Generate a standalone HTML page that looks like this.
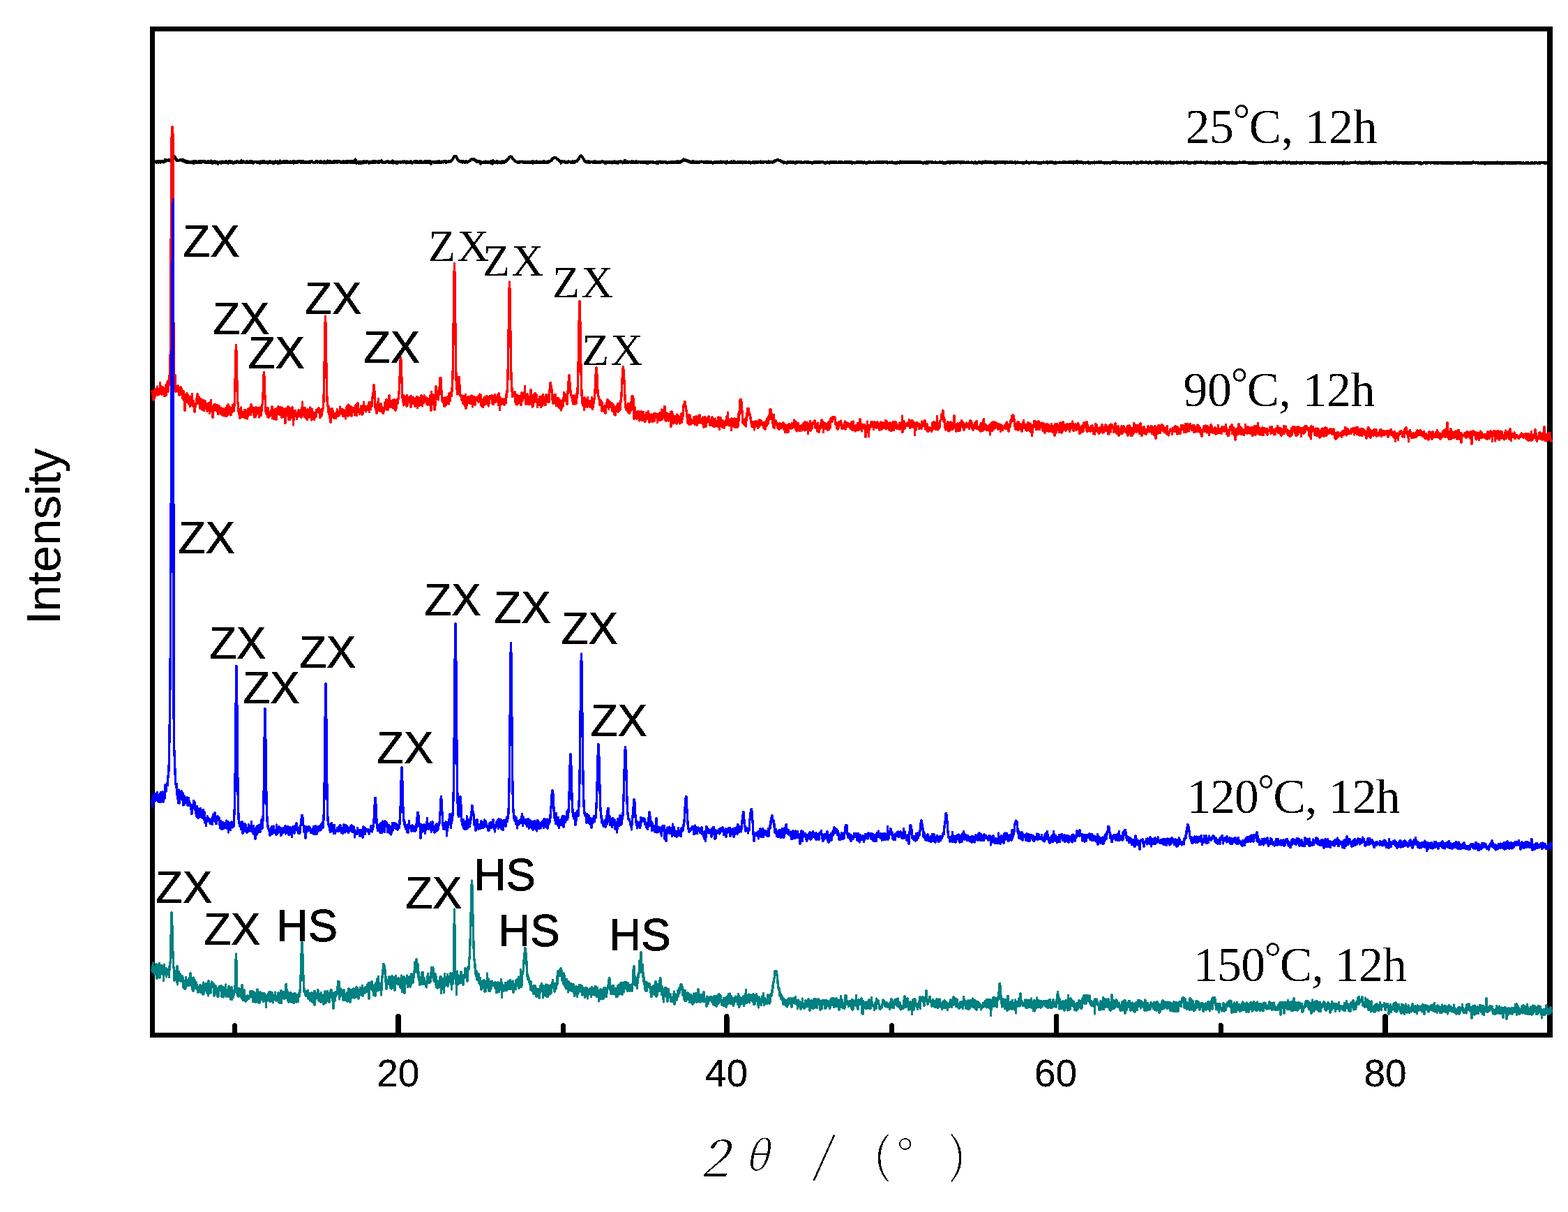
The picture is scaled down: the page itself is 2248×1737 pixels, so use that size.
<!DOCTYPE html>
<html lang="en">
<head>
<meta charset="utf-8">
<title>XRD patterns</title>
<style>
html,body{margin:0;padding:0;background:#fff;}
body{width:2248px;height:1737px;overflow:hidden;}
svg{display:block;}
text{white-space:pre;}

.sa{font-family:"Liberation Sans",sans-serif;font-size:63.5px;stroke:#000;stroke-width:0.7px;}
.se{font-family:"Liberation Serif",serif;font-size:64px;letter-spacing:2px;}
.tk{font-family:"Liberation Sans",sans-serif;font-size:55px;}
.tp{font-family:"Liberation Serif",serif;font-size:70px;letter-spacing:-0.5px;}
.tp3{letter-spacing:-0.9px;}
.dg{font-size:61px;}
.yt{font-family:"Liberation Sans",sans-serif;font-size:69px;letter-spacing:-0.55px;}
.xt{font-family:"Noto Serif CJK SC","Liberation Serif",serif;font-weight:200;}
.xi{font-style:italic;font-weight:300;}

</style>
</head>
<body>
<svg width="2248" height="1737" viewBox="0 0 2248 1737">
<defs><filter id="crispA" filterUnits="userSpaceOnUse" x="0" y="0" width="2248" height="1737" color-interpolation-filters="sRGB"><feComponentTransfer><feFuncA type="discrete" tableValues="0 0 1 1 1"/></feComponentTransfer></filter><filter id="crispB" filterUnits="userSpaceOnUse" x="0" y="0" width="2248" height="1737" color-interpolation-filters="sRGB"><feComponentTransfer><feFuncA type="discrete" tableValues="0 0 0 1 1"/></feComponentTransfer></filter></defs>
<rect width="2248" height="1737" fill="#fff"/>
<g fill="#000" shape-rendering="crispEdges">
<rect x="215" y="38" width="2011" height="7"/>
<rect x="215" y="1480" width="2011" height="7"/>
<rect x="215" y="38" width="7" height="1449"/>
<rect x="2218" y="38" width="8" height="1449"/>
<path d="M333.0 1481V1469.5a3.50 3.50 0 0 1 7.0 0V1481z"/>
<path d="M567.3 1481V1456.7a3.70 3.70 0 0 1 7.4 0V1481z"/>
<path d="M804.0 1481V1469.5a3.50 3.50 0 0 1 7.0 0V1481z"/>
<path d="M1038.1 1481V1456.7a3.70 3.70 0 0 1 7.4 0V1481z"/>
<path d="M1275.0 1481V1469.5a3.50 3.50 0 0 1 7.0 0V1481z"/>
<path d="M1510.9 1481V1456.7a3.70 3.70 0 0 1 7.4 0V1481z"/>
<path d="M1746.9 1481V1469.5a3.50 3.50 0 0 1 7.0 0V1481z"/>
<path d="M1982.3 1481V1456.7a3.70 3.70 0 0 1 7.4 0V1481z"/>
</g>
<g transform="scale(0.1)" fill="none" stroke-linejoin="round" stroke-linecap="round" shape-rendering="crispEdges">
<path stroke="#000000" stroke-width="40" d="M2180 2332l5-15 5 3 5-6 5 2 5-6 5 3 5 2 5-1 5-1 5 5 5 4 5 6 5-6 5-1 5-8 5 12 5 2 5-16 5 17 5-20 5 15 5-1 5 0 5-16 5 22 5-14 5 2 5-11 5 4 5 15 5-11 5 7 5 5 5-20 5 19 5-24 5-8 5 21 5-12 5 6 5-12 5 7 5 1 5-8 5 0 5 0 5 4 5-14 5 6 5 9 5 6 5-4 5-3 5 2 5 2 5-10 5-7 5-7 5-15 5-10 5-3 5-11 5 0 5 0 5 10 5 9 5 6 5 12 5 11 5 12 5-11 5 5 5 2 5 1 5-2 5 0 5 3 5 4 5-6 5-6 5 0 5 0 5 0 5 12 5 2 5-2 5-6 5-2 5-2 5 22 5-10 5 1 5-5 5 6 5 18 5-11 5-2 5 19 5-21 5 7 5 15 5-14 5-3 5 8 5 7 5-2 5-11 5 9 5 6 5-15 5 5 5-5 5 16 5-5 5-4 5-5 5 11 5-16 5 26 5-11 5-13 5 13 5-15 5 11 5 5 5-18 5 8 5 7 5 1 5-2 5-1 5 7 5-8 5-11 5 2 5 20 5-4 5-19 5 22 5-7 5 5 5-19 5 10 5-3 5-9 5-3 5 15 5-15 5 11 5 1 5 3 5-9 5 17 5 2 5-4 5 5 5-6 5-5 5-8 5-1 5 10 5 9 5-18 5 20 5-2 5-12 5-4 5 8 5-19 5 9 5 18 5-3 5 12 5-2 5-24 5 18 5-4 5 1 5-14 5 17 5-21 5 14 5 10 5-21 5 15 5-5 5-5 5 16 5 14 5-24 5 6 5 1 5-6 5 3 5-9 5 0 5 6 5 11 5-17 5 12 5-18 5 19 5 0 5-10 5-6 5 11 5 5 5 0 5-1 5 2 5-4 5-21 5 7 5-1 5 10 5 7 5-12 5 16 5-21 5-4 5 10 5-3 5 7 5-16 5 15 5 7 5-3 5-8 5-6 5 9 5 1 5 14 5 0 5-14 5 1 5-2 5-4 5 11 5-4 5 8 5-9 5-12 5 9 5-11 5 6 5 3 5 0 5 2 5 7 5-14 5 9 5-5 5 9 5-7 5-3 5-17 5 21 5 12 5-22 5 0 5 4 5-4 5 3 5 7 5-4 5 6 5 9 5-5 5 3 5 1 5-18 5-2 5 19 5-9 5 1 5-6 5 4 5-1 5 11 5-18 5 19 5-5 5-13 5 6 5 5 5-18 5 17 5 8 5 0 5 4 5-12 5-5 5 1 5 0 5 2 5 1 5-1 5-4 5-1 5 8 5-2 5 5 5-6 5 3 5 4 5-6 5 10 5-7 5 14 5-24 5-2 5 5 5-3 5 5 5 8 5-18 5 17 5-15 5 10 5-14 5 20 5-3 5-13 5 19 5-13 5 6 5-6 5 5 5 5 5-15 5 6 5 16 5-21 5 3 5 5 5 3 5-4 5-10 5 4 5-1 5 11 5-10 5 2 5 10 5-8 5 16 5-4 5 5 5-19 5 21 5-4 5-1 5-18 5 5 5-9 5 5 5 2 5-1 5-5 5 20 5-15 5 25 5-28 5 16 5 2 5-13 5-17 5 25 5 6 5-13 5 12 5-12 5 7 5-5 5 4 5-14 5 19 5-10 5-11 5 6 5 8 5-10 5 8 5 8 5-20 5 12 5 7 5-17 5 2 5 10 5 6 5-4 5-11 5 16 5-15 5 16 5-19 5 6 5-3 5-1 5 3 5 12 5-2 5-18 5 5 5 23 5-7 5-24 5 25 5-14 5 9 5 1 5-16 5 3 5 7 5 9 5-17 5-6 5 7 5 1 5-7 5 2 5 11 5-1 5-12 5 7 5-3 5 19 5-22 5 6 5 9 5-6 5 8 5-3 5-14 5 19 5-12 5 3 5-5 5 12 5 2 5 1 5-14 5 9 5 6 5 0 5-17 5-1 5 12 5-8 5-5 5 1 5 17 5-4 5-13 5 6 5-4 5-1 5-5 5 10 5 2 5 8 5-4 5-2 5 7 5 1 5-3 5-7 5-1 5-10 5 9 5-6 5-2 5 14 5-1 5-8 5 7 5-1 5 0 5-4 5 10 5-18 5 0 5 21 5-11 5 9 5 0 5-5 5 7 5 1 5-14 5 0 5 16 5-22 5 6 5 11 5 2 5-9 5 11 5-5 5-17 5 13 5-21 5 19 5 1 5 1 5-4 5-10 5 9 5 7 5-17 5 14 5 3 5 3 5-6 5 5 5-3 5-2 5-9 5-6 5 21 5-8 5 8 5-19 5 2 5 8 5-6 5-6 5 15 5-11 5 16 5-17 5 6 5 0 5-11 5 16 5-1 5-11 5 6 5 1 5 9 5-3 5 0 5-7 5-1 5 11 5-10 5-9 5 12 5-6 5 15 5-8 5 0 5 11 5-20 5 17 5-10 5-1 5-8 5 2 5 16 5-24 5 22 5-2 5-8 5-6 5 16 5-13 5 14 5 1 5-6 5-11 5 18 5-10 5-8 5 7 5 12 5-17 5 7 5-1 5 4 5-8 5-31 5 27 5 1 5 23 5-18 5 12 5-9 5 12 5-1 5-14 5 21 5-20 5 6 5 7 5 3 5 4 5-19 5 16 5-17 5 7 5-3 5 0 5 14 5-23 5 14 5-13 5-1 5 19 5-2 5-8 5 7 5-20 5 9 5-7 5 9 5-1 5 2 5-5 5 15 5 5 5 0 5-9 5-7 5 4 5-3 5 12 5-18 5 9 5-4 5-6 5 10 5 6 5-8 5-9 5 15 5-7 5 6 5-3 5-13 5 6 5-2 5 2 5 6 5 8 5-15 5 16 5-22 5 2 5-4 5 7 5 9 5-15 5 6 5 7 5-13 5-7 5 6 5 22 5-14 5 7 5 0 5 6 5 3 5-7 5 1 5 7 5-15 5 2 5 4 5-5 5 3 5-13 5 13 5-7 5-2 5 16 5-11 5 13 5-4 5 2 5-4 5 8 5-1 5-1 5-12 5 1 5-8 5-8 5 31 5-7 5-6 5 6 5 0 5-7 5 7 5-7 5-3 5 18 5 1 5-10 5 0 5 8 5-11 5-10 5 5 5 5 5-3 5-4 5-1 5 12 5 1 5 2 5-15 5 6 5-7 5 3 5-5 5 13 5-7 5 5 5-6 5-5 5 9 5-5 5 10 5-2 5 10 5-14 5-7 5 19 5-18 5 5 5 11 5-3 5 0 5-5 5 3 5-8 5 6 5-1 5-11 5 22 5 2 5 1 5-3 5-6 5-5 5-5 5-6 5 11 5 2 5-2 5-12 5 17 5-18 5 4 5-3 5 21 5-9 5-7 5 8 5 1 5-10 5 15 5 2 5-10 5-13 5 11 5-8 5 18 5-16 5 11 5-5 5-4 5 10 5 3 5 2 5-17 5-2 5 1 5 14 5-11 5 14 5-20 5 3 5 0 5 3 5 15 5-1 5-4 5-16 5-4 5 20 5 4 5 6 5-4 5-19 5 35 5-33 5 12 5-7 5 3 5-2 5 3 5-1 5 2 5-3 5 5 5-4 5 3 5-7 5-5 5 3 5 0 5-3 5 19 5-18 5 17 5 1 5-1 5-24 5 24 5-4 5 3 5-10 5-2 5 13 5-7 5-12 5 9 5-2 5 4 5 0 5-3 5-11 5 5 5 8 5 0 5 1 5-11 5 5 5 10 5-15 5 4 5 5 5-8 5 0 5 9 5-17 5 9 5 6 5-4 5-8 5 3 5-8 5 7 5-9 5-12 5-2 5-10 5-7 5-5 5-10 5-10 5-8 5-2 5 0 5 0 5 2 5 7 5 6 5 10 5 11 5 10 5 0 5 15 5 6 5 3 5 1 5 5 5-4 5 12 5-10 5 13 5-1 5-12 5-2 5 22 5-9 5-3 5-3 5-4 5 7 5 3 5 6 5-5 5 4 5-1 5-16 5 14 5-11 5 13 5-6 5-3 5-3 5-1 5-8 5 0 5 1 5-1 5-16 5-4 5 3 5-4 5-5 5 4 5-5 5 0 5 11 5-11 5 15 5 0 5-2 5 5 5 6 5 8 5-5 5-3 5 18 5-15 5 17 5 3 5-1 5-15 5 2 5 9 5 1 5-1 5-7 5 34 5-14 5-13 5 13 5-1 5-5 5-2 5 7 5-12 5 2 5-5 5 9 5 9 5-2 5-13 5-5 5 4 5 12 5-11 5 1 5 11 5-12 5 1 5 12 5-14 5 12 5-1 5-7 5 3 5 9 5-21 5 9 5-8 5-3 5 36 5-35 5 0 5-10 5 8 5 20 5-8 5 1 5-5 5 11 5-15 5 2 5-5 5 6 5-7 5 26 5-9 5-7 5 1 5 4 5-5 5-5 5 4 5 6 5 6 5 4 5-13 5 8 5-17 5 18 5-14 5-3 5 3 5 10 5-6 5 2 5-14 5-1 5-4 5 10 5-12 5-5 5-6 5 2 5-17 5 1 5-7 5 0 5-12 5-11 5-2 5-3 5 0 5 3 5-1 5 6 5 1 5 13 5 13 5-2 5 3 5 6 5 4 5 10 5 6 5 2 5 5 5 2 5 3 5 0 5 6 5 0 5-7 5 13 5-5 5 3 5-7 5 11 5-11 5-5 5 4 5-1 5 6 5-5 5 0 5-4 5 4 5-2 5 1 5 9 5-3 5-6 5 17 5-3 5 0 5-12 5 6 5 0 5 0 5-7 5 1 5 12 5-3 5-11 5 14 5-6 5 5 5-7 5-6 5 10 5 3 5-2 5-5 5-8 5 2 5-7 5 25 5-3 5-10 5 9 5-13 5-3 5 16 5-11 5 1 5-2 5 12 5-20 5 11 5 0 5-2 5 11 5-13 5-1 5 11 5-7 5-2 5 1 5 13 5-7 5 6 5-6 5-7 5 12 5 3 5-10 5-11 5 17 5-17 5 0 5 7 5 0 5 0 5 6 5 8 5-2 5-16 5 11 5 5 5-19 5-1 5 12 5-2 5-5 5-7 5 5 5-9 5-3 5 1 5-14 5 3 5-14 5 1 5-9 5-6 5 5 5-10 5 1 5-3 5-4 5 0 5 2 5 1 5 8 5 4 5 8 5 6 5-2 5 0 5 10 5 4 5 5 5-2 5 15 5 0 5 7 5-3 5 20 5-24 5 5 5-5 5 10 5 1 5-6 5 0 5 1 5-5 5 11 5-2 5-8 5 10 5 3 5-11 5-1 5 6 5-6 5 9 5-11 5-2 5 4 5 1 5 3 5-3 5 6 5 6 5-3 5 4 5 2 5-14 5 14 5-19 5 7 5 0 5 10 5 0 5-1 5-4 5-15 5 4 5 2 5-4 5-4 5 5 5-9 5-7 5-3 5-11 5-3 5-9 5-13 5-10 5-7 5-1 5-5 5-3 5 0 5 6 5 5 5 8 5 11 5 6 5 8 5 10 5 9 5 8 5 6 5 6 5-4 5 8 5 6 5-11 5 8 5-8 5 1 5 10 5-14 5 7 5 0 5 12 5-7 5 8 5-7 5 0 5-6 5-4 5 2 5-2 5 11 5-11 5 9 5-8 5 15 5-12 5-10 5 14 5 0 5 8 5-10 5 2 5 5 5 4 5-6 5-3 5-7 5 10 5-7 5-4 5 0 5 1 5 17 5-11 5 0 5-4 5 4 5-7 5 4 5-10 5 10 5-1 5 7 5-4 5 12 5-2 5-12 5 25 5-13 5 4 5-3 5-4 5-7 5 2 5-1 5-3 5 14 5-5 5-12 5 14 5-11 5 15 5-8 5-9 5 15 5-11 5 15 5-3 5-9 5-6 5 5 5 4 5-8 5-6 5 14 5 7 5-3 5-16 5 20 5-12 5 7 5 3 5-1 5 4 5-17 5 8 5-3 5-9 5 4 5 5 5 2 5-17 5 15 5-9 5 5 5-1 5 17 5-3 5-7 5-11 5 7 5 8 5-10 5-24 5 20 5-3 5 16 5-9 5 11 5-9 5-7 5 4 5 13 5-3 5-6 5 0 5-3 5 3 5-2 5-2 5 10 5-5 5-8 5-2 5 14 5 0 5 1 5-8 5-7 5 12 5 2 5 2 5-12 5 8 5-12 5 9 5-9 5 7 5 8 5 6 5-5 5-10 5 6 5-10 5 5 5-4 5-1 5 13 5-2 5-6 5 0 5-1 5 8 5-6 5 6 5 2 5-8 5 6 5 4 5-14 5 11 5 5 5-18 5 10 5 10 5 1 5-16 5 15 5-2 5-17 5 18 5-20 5 11 5 1 5 6 5-1 5-14 5-2 5 4 5 3 5-1 5 6 5-2 5-1 5 3 5-7 5 11 5-2 5 1 5-5 5 0 5 2 5 5 5-8 5 15 5-19 5 4 5 3 5 12 5-25 5 3 5 6 5-1 5 0 5-8 5 12 5-3 5 5 5-2 5-5 5 10 5 1 5-4 5-1 5-12 5 7 5-2 5-3 5 2 5 5 5 3 5-10 5 8 5 4 5 6 5-10 5 4 5-2 5-5 5 6 5 5 5 0 5-3 5-6 5 7 5-10 5 3 5-8 5 2 5 5 5 4 5 4 5-2 5-8 5-5 5 6 5-2 5 6 5-11 5 4 5 6 5-11 5-2 5 13 5 6 5-1 5-7 5 4 5-14 5 11 5 3 5-10 5-4 5 5 5 4 5-3 5-10 5-1 5-10 5 0 5-2 5-14 5 19 5-12 5 1 5-1 5 0 5 0 5 10 5 1 5-2 5-4 5 2 5 16 5 3 5-11 5 19 5-7 5-3 5-3 5 13 5 4 5-7 5 4 5 2 5 2 5-3 5-13 5-1 5 18 5-5 5-4 5 12 5-10 5 8 5-12 5 5 5 11 5-17 5 1 5-1 5 17 5-4 5-9 5 11 5-4 5-7 5 5 5 0 5-9 5 0 5 6 5 0 5-9 5 4 5 0 5 0 5 6 5-6 5 9 5 6 5-3 5-15 5 4 5 4 5 3 5-4 5-6 5-2 5 1 5 15 5-16 5 3 5 6 5 9 5-10 5 2 5 2 5 3 5-8 5 10 5-10 5 8 5-2 5 5 5 7 5-13 5 2 5-4 5-1 5-7 5 10 5 1 5-8 5-1 5 5 5-6 5 11 5-12 5 15 5-8 5 7 5-14 5-2 5 13 5 2 5-9 5-3 5-3 5 16 5-8 5 0 5 8 5-13 5 0 5 2 5-1 5 4 5-4 5 2 5 11 5-13 5 6 5 11 5-20 5 4 5-4 5 15 5-1 5 4 5-6 5 0 5 1 5-3 5-3 5 0 5 7 5-10 5-5 5 13 5-1 5-3 5 8 5-12 5 0 5-5 5 17 5-13 5 6 5-4 5 6 5 0 5 6 5-6 5 5 5-8 5 10 5-10 5-4 5 12 5-5 5-1 5 1 5-12 5 16 5 0 5 0 5-3 5-7 5 5 5 10 5-4 5 0 5-8 5 2 5-4 5-2 5 9 5-12 5 0 5 8 5 4 5 1 5 4 5-7 5 0 5 4 5-9 5-3 5 11 5 2 5-8 5 8 5 4 5-7 5 2 5-5 5 1 5 6 5-11 5-1 5 4 5 7 5-14 5 18 5-7 5-3 5 9 5-16 5-3 5 9 5 8 5-16 5 1 5 2 5 6 5 0 5 0 5-6 5-2 5 7 5 5 5-17 5 17 5 2 5-1 5-6 5-9 5 14 5 4 5-5 5 2 5-4 5-9 5 1 5 3 5-2 5 3 5-5 5 9 5-10 5-1 5 17 5-12 5-2 5-10 5 11 5 13 5-11 5 6 5-6 5 3 5-8 5-1 5 9 5-4 5 8 5-13 5 9 5-13 5 12 5-12 5 2 5-10 5-3 5 2 5 4 5-7 5-5 5-4 5-1 5 0 5 0 5 3 5 7 5-1 5-1 5 0 5 4 5 9 5 4 5 4 5 3 5-10 5 2 5 10 5 3 5-5 5 14 5-14 5 7 5 4 5-3 5 3 5-3 5 2 5 3 5 2 5-1 5-10 5-8 5 4 5 6 5 6 5-7 5 1 5-9 5 13 5-2 5 3 5-14 5 7 5-6 5 12 5-15 5 8 5 5 5-1 5-5 5 4 5 0 5 5 5 6 5-18 5 13 5-15 5 11 5 2 5-6 5 0 5 1 5-10 5 5 5-4 5-2 5 12 5-8 5 0 5 2 5 2 5 5 5-1 5 2 5-1 5-1 5 3 5-3 5 0 5-2 5-10 5 1 5 1 5 4 5 7 5-8 5-1 5 11 5-7 5-1 5 7 5-7 5 5 5 3 5-3 5-3 5 5 5 1 5 3 5-6 5 5 5 10 5-8 5-2 5-5 5 4 5-12 5 11 5-8 5 7 5-7 5 10 5-6 5 5 5-10 5 2 5 2 5 6 5-15 5 13 5 0 5-9 5-3 5 11 5-7 5-3 5-2 5 0 5-1 5 9 5-4 5-2 5 2 5 4 5 5 5-2 5 8 5-7 5 2 5 3 5 3 5-5 5-1 5 3 5-11 5 0 5 9 5 2 5 1 5 0 5 7 5-17 5 3 5 2 5-9 5 7 5-5 5 0 5 11 5-2 5-8 5 6 5-5 5 8 5-6 5 2 5 2 5-8 5 6 5-10 5 8 5-1 5 2 5 2 5 3 5-5 5 6 5-14 5 7 5-7 5 8 5-2 5 0 5-2 5-3 5 2 5-3 5 12 5 0 5 0 5-4 5-2 5 6 5-1 5-1 5-9 5 13 5-7 5 0 5-1 5-3 5 5 5-4 5 6 5 0 5-6 5 0 5 1 5 5 5 0 5-5 5-4 5 11 5-11 5 16 5-8 5 7 5-10 5 8 5-4 5 1 5 2 5-7 5 9 5-2 5-4 5-4 5 1 5 4 5-8 5 10 5-7 5-1 5 8 5-5 5 5 5-10 5 1 5 1 5 5 5 6 5-6 5-4 5-3 5 7 5 0 5-3 5 10 5-11 5-2 5 0 5 5 5-3 5 4 5 3 5 6 5-9 5 5 5 4 5 0 5-7 5 1 5-7 5-3 5 11 5-12 5 9 5-7 5-2 5 2 5 3 5 5 5-1 5 1 5 1 5-1 5-10 5 5 5 1 5 3 5-5 5 4 5 3 5-9 5-2 5 12 5-12 5 3 5 0 5 6 5-1 5-9 5-2 5 0 5 9 5-6 5-1 5 11 5-1 5-8 5 6 5-1 5-1 5-2 5-1 5 1 5 3 5-9 5 6 5-3 5 0 5 6 5-8 5 7 5 7 5-7 5-4 5 14 5-10 5 5 5 1 5-2 5 2 5-8 5 4 5 6 5 1 5-9 5 4 5-8 5 0 5 1 5 8 5 5 5-11 5 8 5-1 5 1 5 3 5-7 5 12 5-5 5-2 5 0 5 2 5-11 5 10 5-9 5 6 5 2 5-5 5 6 5-13 5-6 5 16 5-8 5 0 5-5 5 10 5 3 5-9 5 5 5-2 5 3 5-6 5 1 5 0 5 8 5-4 5-6 5 9 5-6 5-4 5 12 5-3 5-8 5 10 5-3 5-3 5-5 5-1 5 2 5 2 5 7 5-2 5-3 5 1 5-5 5 2 5 8 5-14 5 13 5-2 5-2 5-7 5 9 5-5 5 3 5-3 5 6 5-3 5-5 5-1 5 11 5-13 5 3 5 3 5-1 5-2 5 1 5 10 5-11 5 5 5-4 5 4 5 4 5 2 5-5 5 1 5 10 5-7 5-6 5 3 5-5 5 9 5-7 5 10 5-9 5 0 5-7 5 11 5 7 5-13 5-6 5 11 5-10 5 3 5 4 5-3 5-4 5-1 5 7 5-3 5-4 5 9 5 0 5-6 5 1 5 12 5-4 5-1 5 2 5-2 5 3 5-14 5 6 5 4 5-2 5 5 5-1 5-2 5 2 5-5 5 0 5 3 5-6 5 5 5-3 5-6 5 5 5 7 5-3 5 0 5-4 5-2 5 9 5 5 5-5 5 5 5-2 5-2 5 6 5-11 5 1 5 9 5-7 5-3 5 4 5-7 5-2 5 5 5 7 5-5 5 1 5-8 5 6 5 8 5-18 5 10 5 6 5-17 5 7 5-2 5 11 5-10 5 12 5-14 5-4 5 9 5 8 5-10 5-1 5 6 5-11 5 5 5 4 5 1 5-2 5-2 5 0 5-1 5 2 5 1 5-1 5 3 5 0 5-7 5 16 5-12 5 1 5-5 5 9 5-5 5 8 5-11 5 8 5 0 5-6 5 5 5-2 5 0 5 4 5 1 5-8 5 4 5 3 5 3 5-2 5-7 5 6 5-1 5 4 5 0 5-2 5 0 5-1 5-4 5-4 5 1 5 3 5 1 5 0 5 3 5 6 5-7 5 4 5-7 5 6 5-11 5 13 5 1 5-8 5 8 5-8 5 3 5 5 5-4 5-8 5 2 5-1 5 4 5-8 5 2 5 10 5-6 5 4 5 2 5 7 5-14 5-8 5 17 5-5 5-9 5 1 5 6 5 0 5-3 5-3 5-9 5 19 5-10 5-3 5 5 5 7 5-7 5 10 5-10 5-4 5 14 5 0 5-6 5-5 5 4 5-7 5 4 5 1 5 4 5 3 5-2 5 2 5-11 5 10 5-9 5 3 5 7 5-11 5 23 5-17 5 7 5-5 5-5 5 4 5 0 5-5 5 6 5 2 5-4 5-6 5 8 5-4 5-3 5 12 5 0 5-12 5 5 5 1 5-3 5 6 5-8 5-1 5 4 5 1 5 4 5 2 5 3 5-14 5 4 5 6 5-11 5 2 5 0 5 3 5 3 5 1 5 5 5-7 5-5 5 11 5-6 5-4 5-3 5 5 5 8 5-12 5 9 5 0 5 4 5-3 5 0 5-6 5 1 5-2 5 7 5 3 5-13 5 14 5-8 5 6 5-4 5-3 5-4 5 10 5-4 5 2 5-5 5 4 5 1 5-2 5-4 5 3 5 1 5 2 5-3 5 7 5 2 5 0 5-11 5 8 5 4 5-11 5 8 5-3 5-4 5 1 5-2 5-12 5 17 5 1 5-5 5-2 5 3 5-1 5 1 5 10 5-6 5 1 5 0 5 1 5-6 5-5 5 9 5-3 5 4 5-2 5-5 5 3 5-8 5 8 5 1 5-3 5-1 5 7 5-6 5-4 5 7 5-5 5 0 5 7 5 4 5-6 5 0 5-2 5 10 5-10 5-1 5 4 5 6 5-1 5 0 5-5 5-2 5-2 5 1 5-2 5-3 5 7 5-4 5 4 5 1 5 2 5-9 5 0 5 2 5-6 5 12 5-11 5 14 5-11 5 2 5 5 5-5 5-3 5 8 5-11 5 9 5-1 5-6 5-2 5 3 5-2 5 8 5-4 5-1 5 10 5-10 5 4 5-2 5 10 5-12 5-1 5 14 5-6 5-2 5-5 5 0 5 8 5-4 5 3 5 1 5-3 5 0 5-5 5 7 5 0 5 3 5-6 5 1 5-3 5 2 5 0 5-2 5 4 5-15 5 6 5 5 5-6 5 10 5-7 5 0 5 10 5-7 5-2 5 6 5 1 5 3 5-6 5-8 5 2 5 6 5 4 5-7 5-5 5 5 5 5 5-1 5-14 5 13 5 4 5-13 5 12 5 5 5-14 5 3 5 2 5-5 5 9 5 0 5 0 5-6 5 1 5-15 5 24 5-8 5-2 5 8 5-12 5 4 5 3 5 6 5-9 5 3 5-8 5 12 5-10 5 1 5 9 5-6 5 4 5 6 5-9 5 3 5-3 5 2 5 0 5-2 5 7 5-8 5 7 5-8 5 4 5-1 5-6 5 3 5-1 5 11 5-8 5 15 5-15 5 8 5-2 5-1 5-6 5-2 5 5 5 2 5 5 5-12 5 3 5 5 5-7 5-3 5 13 5-11 5 2 5 8 5-4 5 2 5 1 5-9 5 4 5-1 5-3 5 6 5-8 5 0 5 7 5-6 5-1 5 8 5-5 5-2 5 5 5 4 5-2 5-2 5-1 5-3 5 2 5 9 5-10 5 14 5-10 5-2 5 4 5 1 5 3 5 5 5-11 5 5 5-6 5 1 5-4 5 4 5-3 5 10 5-1 5-7 5 6 5-4 5 3 5-6 5-2 5-3 5 7 5-6 5-2 5 10 5-6 5 4 5-4 5-3 5 13 5-5 5 1 5-7 5 5 5-1 5 3 5 0 5-4 5 4 5 1 5-4 5 8 5-5 5-1 5-3 5 2 5 1 5-3 5 6 5-1 5-4 5-1 5 8 5-10 5 3 5 2 5-2 5 3 5-1 5 2 5-7 5 7 5 3 5-4 5 0 5 2 5-9 5 1 5 2 5 1 5 2 5 7 5-10 5 6 5 3 5-9 5 7 5-7 5-1 5 2 5-5 5 10 5-2 5-9 5 4 5 2 5 7 5 0 5-1 5 4 5-4 5-10 5 5 5 7 5 0 5-10 5 5 5 0 5-4 5-5 5 10 5-10 5 8 5 6 5-6 5-9 5 10 5-9 5 6 5-1 5 7 5-9 5 4 5-1 5 2 5 1 5-10 5 9 5-4 5 5 5 2 5 2 5-10 5 4 5 6 5-11 5 7 5-6 5-3 5 5 5 0 5 3 5 7 5-3 5-2 5-2 5 0 5-2 5 6 5-8 5 5 5-3 5-4 5 10 5-10 5 11 5-12 5 8 5 6 5-15 5 11 5 1 5-13 5 7 5-1 5-5 5 6 5-6 5 4 5 0 5 13 5-17 5 5 5-3 5-1 5 3 5 9 5-9 5-2 5 7 5-2 5 3 5 0 5-3 5 8 5-13 5 9 5 1 5 0 5 0 5-2 5-3 5-5 5 3 5 4 5-10 5 10 5 6 5-9 5 2 5 2 5 6 5-10 5 1 5 6 5-3 5 0 5 3 5-11 5 1 5 9 5-6 5 3 5 4 5-8 5-4 5 7 5 5 5-12 5 0 5 0 5 7 5 0 5 3 5-8 5-3 5 8 5-3 5 0 5 0 5 6 5-6 5 1 5 7 5-2 5-12 5 5 5 0 5 3 5-1 5 4 5-7 5 9 5-15 5 10 5-1 5 12 5-3 5-11 5 13 5-11 5 10 5-12 5 8 5 7 5-16 5 5 5 1 5-4 5-2 5 3 5 4 5-7 5 9 5-10 5-2 5 9 5 6 5 0 5-9 5 4 5 2 5-1 5-11 5 2 5 0 5 4 5-5 5 4 5 4 5 2 5-4 5-1 5-7 5 6 5 4 5-5 5 3 5 2 5-1 5 1 5-7 5 6 5 3 5 1 5-4 5 6 5 4 5-14 5 5 5-3 5-10 5 11 5 6 5-1 5-3 5-2 5 4 5-1 5-5 5 8 5-1 5-10 5 5 5 1 5 5 5-9 5 10 5-6 5 0 5 6 5-6 5 5 5-3 5 4 5-12 5 10 5 1 5-11 5 3 5 5 5 0 5 2 5-9 5 11 5-15 5 14 5-12 5 8 5 4 5-10 5 0 5 10 5-2 5-2 5-5 5 6 5 1 5-5 5 4 5-10 5 2 5-2 5 3 5 7 5-4 5 4 5-3 5 7 5-8 5 2 5-4 5 10 5-7 5 0 5 6 5 4 5-3 5-7 5 3 5 0 5-1 5 5 5-12 5 11 5 0 5 1 5-7 5-1 5 9 5-1 5-7 5-3 5-1 5 0 5 11 5-7 5 6 5-6 5 2 5-4 5-1 5 0 5 5 5-7 5 6 5 1 5 2 5-1 5-5 5-3 5 2 5 0 5 2 5-3 5-6 5 11 5 3 5-8 5-2 5 11 5-12 5 6 5 3 5-6 5 1 5-2 5 7 5-3 5 0 5 10 5-10 5 0 5 4 5 6 5-9 5 6 5-9 5 9 5-8 5 4 5 8 5-11 5-5 5 6 5 4 5-1 5 7 5-9 5 9 5-10 5 4 5 6 5-2 5-8 5-3 5 3 5 6 5-7 5 3 5-4 5-2 5-1 5 1 5 9 5-4 5-1 5 0 5 4 5-7 5 6 5-5 5 3 5-5 5 9 5 0 5-2 5 2 5-10 5 7 5-5 5-3 5 12 5-5 5 6 5-7 5-5 5 4 5-5 5 12 5-3 5-1 5 5 5-9 5-5 5 4 5 1 5-2 5 6 5-6 5 7 5-3 5 4 5-1 5-2 5 0 5-9 5 0 5 10 5-11 5-1 5 9 5 7 5-4 5 2 5-6 5 3 5 5 5-9 5 8 5-3 5 3 5-10 5 3 5 0 5 7 5-3 5-5 5 0 5-5 5 10 5-2 5-4 5 3 5-2 5 5 5-7 5 6 5-2 5 7 5-8 5 9 5-10 5-3 5 4 5 5 5-6 5-2 5 4 5 2 5 6 5-10 5 6 5-2 5-4 5 11 5-5 5-2 5 3 5-2 5 4 5-10 5 13 5-3 5 2 5-8 5 0 5-5 5 12 5-11 5 7 5 2 5-1 5-7 5-1 5 2 5 2 5 9 5-11 5 9 5-6 5 10 5-11 5 11 5-11 5 4 5-5 5 4 5 2 5-5 5 5 5-10 5 10 5-4 5-5 5 7 5 3 5-4 5 3 5-4 5 1 5-5 5 4 5-3 5 4 5 1 5-2 5 7 5-4 5-2 5-1 5 1 5-1 5 7 5-4 5-5 5 7 5-4 5-7 5 2 5 7 5 1 5 1 5-6 5-3 5 0 5-2 5 6 5-4 5 1 5 1 5 7 5-5 5 0 5 5 5-2 5 5 5-9 5 5 5-1 5 0 5-5 5 6 5 4 5-7 5 6 5 0 5-7 5 4 5-1 5-4 5 8 5-3 5-2 5 0 5 8 5-4 5-2 5-1 5 4 5-11 5 7 5 2 5-8 5 10 5-7 5 4 5-1 5-4 5-3 5 9 5-1 5-3 5-6 5 0 5 9 5-6 5 6 5-9 5 7 5-1 5-2 5 2 5 1 5-6 5 2 5 1 5 8 5 2 5-10 5 1 5 6 5-1 5-7 5 1 5-2 5 4 5-3 5 1 5 6 5 12 5-13 5-3 5-3 5-9 5 13 5 8 5-5 5 0 5 3 5-4 5 5 5-10 5 7 5-4 5 5 5 1 5 3 5-8 5 0 5 3 5-8 5 5 5-8 5 4 5 3 5-1 5-1 5 1 5-5 5 7 5-2 5 2 5-8 5 6 5 1 5-11 5 5 5 3 5 1 5 1 5-5 5 10 5-4 5 2 5 6 5-6 5-4 5-5 5-1 5 3 5 3 5 6 5-8 5 8 5-9 5 5 5-1 5 5 5-4 5-3 5 5 5 4 5-10 5 9 5-8 5 1 5-7 5 4 5 7 5 3 5-5 5-6 5 5 5-4 5 6 5-11 5 14 5-13 5 11 5-5 5 2 5-4 5 9 5-5 5 15 5-13 5 2 5 3 5-10 5 3 5 1 5-1 5 6 5-6 5-4 5 11 5-11 5 10 5-8 5 9 5-10 5 1 5 4 5-3 5 6 5-1 5 3 5 0 5 2 5-13 5 3 5 4 5-7 5 4 5-1 5-3 5 1 5 0 5 6 5-4 5-3 5 5 5 1 5-10 5 10 5-1 5-1 5 6 5-11 5 1 5 6 5-1 5 5 5-7 5 4 5 4 5-9 5 11 5-5 5-2 5-2 5 2 5-7 5 6 5-8 5 14 5-6 5-5 5-5 5 3 5 4 5 4 5-10 5 1 5 10 5-2 5 8 5-3 5-1 5-11 5 8 5 2 5-2 5 1 5-7 5 2 5 3 5-3 5 7 5 4 5-3 5 2 5-12 5 6 5 4 5 1 5-10 5 0 5 7 5-7 5 7 5-8 5 2 5-2 5 12 5-10 5 5 5-7 5 3 5 8 5-6 5 5 5-1 5-6 5 9 5-5 5 5 5-7 5 2 5 0 5 5 5-7 5 4 5-4 5 9 5-5 5-5 5-2 5 2 5-3 5 2 5-4 5 5 5 3 5-6 5 4 5 1 5 2 5 3 5-4 5 6 5-10 5 4 5-3 5 18 5-12 5 0 5 2 5-2 5-3 5 1 5-1 5-1 5-6 5 4 5-1 5 4 5-5 5 7 5 2 5-5 5 5 5-6 5 1 5 0 5-3 5-3 5 7 5-4 5-1 5 3 5 3 5 1 5-4 5 0 5-6 5 2 5 0 5 0 5-1 5 8 5-5 5-3 5 10 5-7 5 1 5 4 5-4 5 4 5-5 5 6 5 1 5-11 5 16 5-10 5 2 5 0 5-4 5 3 5-8 5 9 5-3 5 1 5 0 5 7 5-7 5 4 5 4 5-5 5-2 5-4 5 9 5-9 5-1 5 8 5-1 5-6 5 12 5-9 5-1 5 3 5-4 5 11 5-2 5-2 5 4 5-12 5 11 5-5 5-1 5-7 5 10 5-4 5 1 5-1 5 4 5 0 5 0 5-9 5 0 5 2 5 4 5-7 5 5 5-3 5 5 5 4 5-8 5 10 5-6 5-4 5 7 5-3 5 3 5-8 5 0 5 10 5-5 5 3 5-1 5-2 5-6 5 0 5-2 5 12 5-8 5 0 5-2 5 8 5-6 5 8 5-8 5-1 5 9 5-3 5-8 5 12 5-6 5-8 5 4 5 10 5 0 5-8 5-1 5 1 5-3 5 9 5-6 5 7 5-6 5-5 5 1 5-1 5-4 5 9 5-4 5 0 5-1 5 6 5-2 5 5 5-12 5 6 5-1 5 0 5 1 5-3 5 9 5 1 5-7 5 2 5 2 5 0 5 1 5 1 5-6 5 0 5 5 5-5 5 1 5 2 5 5 5-7 5 10 5-5 5 0 5-2 5 12 5-13 5 0 5 4 5-8 5-1 5 9 5-2 5-6 5 9 5-6 5 1 5-1 5-1 5 8 5-3 5 0 5-5 5 0 5-2 5 9 5-6 5-3 5 11 5-4 5 2 5-2 5-7 5-1 5 8 5-6 5-3 5 9 5 2 5 1 5-16 5 10 5 7 5-10 5-1 5 6 5 5 5-10 5 2 5 0 5 3 5-3 5 5 5 0 5 8 5-5 5-11 5 2 5 4 5-6 5 3 5 6 5-10 5 2 5-2 5 3 5 1 5 3 5 1 5-7 5 5 5-4 5 10 5 0 5-9 5 7 5 0 5 2 5-10 5 11 5-3 5 0 5-6 5 5 5 3 5-10 5 4 5 5 5-8 5-4 5 5 5 4 5-11 5 9 5 2 5-7 5 9 5-11 5 1 5 2 5 1 5 2 5-1 5 5 5 2 5-10 5 4 5-1 5-1 5 3 5 4 5 2 5-2 5-3 5 4 5-7 5 7 5-1 5-1 5 0 5-2 5 4 5-4 5-3 5-1 5 5 5-8 5 5 5 6 5-3 5-3 5 2 5 5 5 1 5-4 5-1 5 1 5 2 5-9 5 4 5 4 5-3 5-2 5 5 5-3 5 1 5 3 5-10 5 4 5 3 5-6 5 3 5-4 5 3 5 4 5-2 5 1 5 4 5-6 5-4 5-1 5 13 5-10 5 4 5 2 5-5 5 1 5 1 5-4 5-4 5 4 5 0 5-3 5 2 5 5 5 3 5-9 5 6 5 2 5-5 5 8 5-8 5 0 5 7 5-4 5-5 5 1 5-2 5 13 5 0 5-7 5 5 5-9 5 7 5-5 5 8"/>
<path stroke="#ff0000" stroke-width="34" d="M2180 5607l5 2 5 48 5 48 5 32 5-96 5-6 5 68 5-126 5 102 5-54 5-14 5-15 5-21 5 3 5-38 5 127 5-59 5 45 5-56 5 57 5-7 5-28 5-131 5 142 5-2 5-92 5 15 5 106 5-112 5 33 5 1 5-24 5 4 5 92 5 20 5-37 5 44 5-104 5-21 5-32 5 147 5-97 5-85 5 87 5-113 5 151 5-11 5-117 5-15 5-74 5-62 5-198 5-136 5-1110 5-1101 5-759 5-156 5-59 5 60 5 61 5 1945 5 1171 5 290 5 64 5 17 5-44 5 146 5 90 5-3 5-37 5 32 5-48 5 47 5-82 5 98 5-9 5 49 5 5 5-23 5-70 5-2 5-26 5 56 5-32 5 86 5 5 5 6 5 47 5-26 5-76 5 124 5-45 5 47 5 146 5-84 5-143 5 35 5-4 5 26 5-73 5 127 5-44 5-55 5 85 5 38 5-93 5-14 5 76 5 67 5-134 5-3 5 101 5-72 5 81 5-153 5 167 5-12 5-41 5-16 5 94 5-34 5 99 5-78 5-4 5 6 5-47 5 7 5-84 5 68 5-121 5 97 5 41 5-105 5 76 5-70 5 33 5-11 5 141 5-109 5-15 5-7 5 16 5 32 5 102 5-80 5 47 5-103 5 6 5 141 5-132 5 84 5-90 5 111 5-51 5 10 5 47 5-8 5 39 5-108 5 31 5-22 5-14 5 2 5 48 5 97 5-34 5-131 5 88 5-111 5 118 5 36 5-11 5-28 5 134 5-132 5 37 5-17 5-83 5 38 5-13 5 10 5-32 5 60 5 24 5 10 5-62 5 12 5-35 5 130 5-66 5-28 5-19 5 73 5-40 5 71 5-25 5 9 5-66 5 64 5 38 5-2 5-83 5 95 5-59 5-37 5 24 5-2 5 24 5-7 5 64 5-116 5 69 5 50 5-73 5-73 5 112 5 19 5-64 5-87 5 68 5-15 5-21 5 96 5 13 5-8 5 17 5-53 5-4 5-46 5 63 5-103 5 92 5-88 5 83 5-90 5 20 5-130 5-169 5-237 5-233 5-107 5 110 5 240 5 242 5 188 5 58 5 18 5 76 5 61 5-23 5-18 5 99 5-92 5 57 5-121 5 80 5-28 5 46 5-7 5 46 5-76 5 33 5 13 5 39 5-110 5 44 5 69 5-120 5 65 5-22 5-7 5 92 5-4 5-30 5-97 5-10 5 5 5 22 5 62 5-10 5-2 5-94 5 102 5-147 5 13 5 60 5-38 5 10 5 24 5 41 5 36 5-9 5 48 5-140 5 40 5 43 5 48 5-134 5 107 5-100 5 30 5 28 5-28 5-29 5 80 5-46 5 100 5-15 5-18 5-109 5 91 5-3 5 30 5-96 5-14 5-52 5-2 5-97 5-177 5-131 5-50 5 94 5 154 5 113 5 64 5 143 5-61 5 87 5-15 5-40 5 100 5-37 5-90 5 131 5-78 5 11 5-10 5 19 5 39 5-10 5-65 5 72 5-66 5-62 5 165 5-87 5 87 5-24 5 33 5-127 5 78 5-26 5-61 5-1 5 5 5 144 5-162 5 14 5 67 5-30 5-17 5-59 5 99 5-21 5-27 5 65 5-94 5-14 5 38 5 35 5-49 5 124 5-145 5 121 5-111 5 15 5 82 5 18 5 12 5-13 5-104 5 209 5-188 5 12 5-34 5 81 5 11 5-47 5-7 5-71 5 67 5 118 5-134 5-28 5 163 5-11 5-68 5 66 5-66 5-21 5-48 5-27 5 33 5 49 5 171 5-95 5-7 5-61 5-39 5-6 5 35 5 18 5 32 5-53 5 91 5-69 5 36 5-33 5-13 5-48 5 29 5 62 5-80 5 51 5-59 5 55 5-29 5 79 5-77 5-30 5-118 5 125 5 22 5 50 5-107 5 25 5 99 5-41 5-88 5 46 5 105 5-93 5 29 5 8 5 72 5-149 5 79 5-6 5-45 5 92 5-69 5 49 5-125 5 8 5 102 5 3 5 69 5-36 5-120 5 49 5 86 5-96 5 51 5 57 5 0 5-29 5-1 5-70 5 58 5 5 5-36 5-68 5 37 5-32 5-14 5 15 5 32 5-65 5 51 5-28 5 115 5-18 5-16 5 29 5-39 5 18 5-90 5 26 5-8 5-20 5-47 5-78 5-202 5-220 5-326 5-320 5-140 5 139 5 323 5 322 5 269 5 148 5 68 5 20 5-11 5 104 5-81 5 89 5 66 5-77 5-46 5 190 5-183 5 74 5-87 5 33 5-27 5 34 5 74 5 11 5-38 5-17 5 67 5-35 5 33 5-33 5 37 5-79 5 2 5-6 5-45 5 94 5-61 5 64 5-63 5-4 5 59 5-47 5-81 5 35 5 48 5-50 5 25 5 44 5-71 5 29 5 74 5-32 5 14 5-73 5 74 5 20 5-80 5-4 5 116 5-101 5-50 5 106 5-35 5-102 5 60 5 88 5-163 5 2 5 146 5-25 5 12 5-68 5 68 5-108 5 66 5 70 5-18 5-105 5 10 5 34 5 17 5-61 5 1 5 26 5 82 5-9 5-127 5 126 5-142 5 151 5 2 5-82 5-16 5-74 5 95 5-11 5 41 5-16 5 42 5-12 5-18 5-30 5-49 5 99 5-5 5 25 5-12 5 9 5-51 5-54 5-68 5 100 5-23 5-21 5 6 5 53 5 20 5-74 5 46 5-8 5 11 5-42 5 16 5-29 5-44 5-7 5 137 5-84 5-11 5-31 5 82 5-101 5 1 5 66 5-86 5-35 5-61 5 12 5-83 5-58 5 71 5 22 5 63 5 168 5 29 5-74 5 13 5 112 5-22 5-67 5-5 5-55 5-57 5 173 5-31 5-10 5 23 5 20 5-36 5-69 5 24 5 90 5 1 5-64 5 84 5-65 5 68 5-27 5 5 5-33 5-58 5-39 5 31 5 58 5-64 5-74 5 147 5-72 5 66 5 13 5-90 5-3 5 52 5-170 5 78 5-9 5 32 5 68 5-57 5 49 5-14 5 23 5-62 5-37 5 76 5 44 5-90 5-37 5 82 5-52 5 13 5 109 5-34 5 8 5-123 5 21 5 14 5 18 5-37 5-34 5-28 5-55 5-74 5-125 5-91 5-168 5-46 5 33 5 148 5 145 5 112 5 137 5 10 5 25 5 74 5-43 5-97 5 117 5-21 5-82 5 93 5 20 5-68 5 97 5-159 5 72 5 69 5-76 5-32 5 66 5-15 5-5 5-63 5 41 5 84 5 24 5-160 5 63 5-26 5 76 5-89 5 89 5-88 5 73 5-12 5-35 5-10 5 108 5-109 5-8 5 8 5 47 5-73 5 28 5 131 5-136 5 39 5 16 5-66 5 119 5-87 5 2 5 24 5 49 5-112 5-25 5 104 5-70 5 118 5-69 5-66 5 22 5 68 5-12 5-95 5 76 5-27 5-14 5 50 5-58 5 39 5 57 5-67 5 76 5-80 5-1 5 10 5 40 5-34 5 72 5-137 5 71 5 23 5 115 5-265 5 188 5-58 5 40 5-29 5-101 5 93 5 57 5-39 5 107 5-209 5 154 5-114 5-164 5 125 5-67 5 95 5-88 5 107 5-39 5 58 5-94 5-87 5 101 5-189 5-45 5 0 5 0 5 146 5 52 5-3 5 126 5 20 5 5 5-4 5-2 5 61 5-44 5 49 5-129 5 34 5 53 5 22 5-75 5 30 5 28 5-98 5 47 5 4 5-16 5 66 5-149 5 90 5-44 5 60 5-102 5-19 5-4 5 53 5-88 5-80 5-98 5-230 5-348 5-469 5-410 5-175 5 173 5 405 5 440 5 382 5 247 5 86 5 55 5 62 5 23 5-81 5-98 5-68 5 0 5 0 5 172 5 77 5 22 5 1 5 4 5-12 5 67 5-14 5-8 5 67 5-99 5 8 5 101 5 10 5-120 5 141 5-34 5-127 5 197 5-131 5 93 5-92 5-29 5 12 5 45 5-64 5 47 5 35 5-83 5 26 5 0 5 70 5-4 5-108 5 85 5-67 5-15 5 155 5-44 5-94 5 93 5-66 5-31 5 91 5 28 5-27 5-60 5-26 5 20 5 12 5 6 5-17 5 23 5-53 5 76 5-64 5-30 5-15 5 22 5 77 5-92 5 80 5 68 5 13 5-20 5 21 5-96 5 109 5-22 5-93 5 10 5-10 5-28 5 81 5 19 5-50 5-15 5-53 5 46 5 54 5-66 5 89 5-112 5 135 5-54 5-32 5-44 5-12 5 36 5-18 5-11 5-1 5-2 5-12 5 113 5 15 5-95 5 91 5-25 5-45 5-55 5-12 5 108 5-9 5-47 5 29 5-15 5 28 5-68 5-29 5 43 5 112 5-128 5-41 5 74 5 165 5-109 5-69 5 80 5-47 5 61 5-44 5 6 5-6 5-36 5 72 5-47 5 51 5 14 5-82 5 57 5-11 5-48 5 57 5-134 5 39 5-79 5-26 5-201 5-197 5-303 5-370 5-328 5-136 5 134 5 331 5 358 5 307 5 244 5 85 5 75 5 106 5-56 5 6 5 15 5 27 5-26 5-24 5-3 5 134 5 4 5 31 5-44 5-88 5 3 5 138 5-43 5 35 5-68 5-40 5 1 5-10 5 56 5 43 5 7 5-8 5 37 5-87 5-100 5 72 5 49 5-86 5 6 5 19 5-42 5 27 5 0 5-129 5 152 5 67 5 33 5-79 5-11 5-24 5 3 5-30 5 50 5 94 5 0 5-96 5 102 5-107 5 1 5-47 5-59 5 52 5 68 5-39 5 142 5 21 5-61 5 45 5-151 5 22 5-43 5 116 5-61 5-64 5 100 5-17 5-66 5 92 5-3 5 96 5-109 5 69 5-55 5 38 5 29 5-26 5-101 5 25 5 69 5 58 5-35 5-100 5 111 5 7 5-150 5-9 5 61 5 75 5-101 5 47 5-45 5 83 5 32 5-141 5-10 5 30 5 50 5-4 5-33 5 59 5-36 5-66 5 108 5-103 5-76 5 28 5-128 5-3 5 105 5-54 5 63 5 71 5 66 5-5 5 52 5-48 5-8 5-65 5 22 5 95 5-63 5-61 5 131 5 28 5 3 5-18 5-91 5 71 5 50 5-119 5 14 5 117 5-96 5-9 5 35 5 86 5-38 5 62 5-39 5-66 5-35 5 9 5 75 5-64 5-28 5-104 5 62 5 55 5-98 5 37 5 18 5 16 5 30 5-4 5 51 5-164 5 9 5-99 5-79 5 33 5-122 5 13 5 145 5 21 5 67 5 24 5 17 5 32 5-16 5 68 5-53 5 96 5-47 5 51 5-125 5 116 5 5 5 2 5-77 5 49 5 20 5-11 5-129 5 52 5-68 5-168 5-180 5-241 5-327 5-275 5-117 5 118 5 285 5 329 5 250 5 189 5 151 5 94 5 42 5 30 5 8 5-84 5-12 5 158 5-180 5 100 5 43 5-50 5 29 5 8 5-83 5-13 5 107 5-141 5 120 5-63 5 38 5 6 5-49 5-4 5 88 5-47 5-14 5 50 5 22 5-146 5 146 5 20 5-28 5 1 5-69 5-12 5-37 5-32 5-57 5-139 5-105 5-48 5-70 5 72 5 34 5 118 5 144 5 17 5 30 5 21 5 23 5 13 5 62 5-62 5 48 5-38 5 6 5 137 5-127 5 31 5 40 5 35 5 23 5-58 5 31 5-45 5 47 5-47 5 100 5-65 5-28 5-51 5 34 5 17 5-99 5 57 5 16 5 62 5-119 5 87 5-3 5-66 5 71 5-48 5 44 5-52 5-3 5 79 5 42 5-68 5-31 5 26 5-2 5 120 5-16 5-30 5 26 5 29 5-71 5-46 5 32 5-50 5 9 5-39 5 118 5-38 5-4 5-81 5 102 5-78 5 75 5-55 5-83 5-26 5-46 5-113 5-111 5-94 5-68 5-30 5 55 5 69 5 98 5 85 5 143 5 79 5 60 5 15 5 18 5 3 5-71 5-5 5 38 5-58 5 135 5-47 5 38 5 15 5-78 5-59 5 88 5 14 5-129 5-18 5-64 5 0 5 0 5 185 5-20 5-129 5 287 5-46 5-121 5 74 5 76 5-78 5 93 5-39 5 44 5-43 5-66 5 56 5 4 5-7 5-49 5 132 5-3 5-39 5-66 5-21 5 66 5-73 5 13 5 121 5-3 5-38 5-2 5-77 5 118 5-79 5-1 5 98 5-26 5 19 5-64 5-59 5 60 5 17 5-12 5 26 5-28 5-81 5 67 5-31 5 120 5-28 5-68 5 42 5 35 5-2 5-99 5 74 5-40 5 6 5 77 5-70 5-39 5-14 5 87 5 20 5-112 5 52 5-3 5 8 5 3 5-28 5 3 5 98 5-123 5 28 5 62 5-55 5 39 5-85 5 38 5 30 5 41 5-94 5-4 5-61 5 146 5-7 5-87 5 28 5 10 5-42 5-53 5 118 5-162 5 122 5 83 5-116 5 126 5-51 5-14 5-36 5-11 5 54 5 6 5 46 5-46 5-51 5 47 5-22 5 43 5-94 5 212 5-77 5-143 5 133 5-90 5-10 5 43 5 95 5-31 5-76 5 4 5 89 5-26 5-31 5-32 5 28 5 81 5-136 5 79 5-16 5-12 5-37 5 41 5 55 5-64 5 83 5-45 5-54 5 32 5 14 5-94 5 134 5-60 5 0 5-47 5-67 5-72 5-2 5-14 5-41 5 23 5-14 5 80 5 17 5 25 5 33 5 55 5 24 5 65 5-38 5-77 5 54 5 84 5-133 5 133 5-130 5 130 5-83 5 63 5-39 5 14 5 10 5 13 5 0 5-25 5-39 5-17 5 2 5 16 5 0 5 90 5-97 5-28 5 19 5 107 5-94 5 1 5 47 5-77 5 99 5-47 5 40 5-114 5 62 5-5 5 28 5-26 5 63 5-9 5-4 5-23 5-50 5 92 5 32 5 23 5-87 5-23 5-44 5 82 5 5 5 57 5-14 5-55 5-52 5 40 5-16 5-26 5 18 5-45 5 14 5 60 5 51 5-9 5 3 5-74 5 84 5-16 5-6 5-97 5 70 5-20 5 31 5 56 5-86 5-22 5 41 5 70 5-117 5 29 5 54 5-2 5-41 5 62 5-47 5 55 5-68 5-64 5 12 5 63 5 99 5-113 5-57 5-1 5 24 5 32 5 68 5-30 5 46 5-93 5 89 5-12 5-22 5 50 5-51 5-9 5-30 5 49 5-68 5 66 5-51 5-73 5 44 5 69 5-168 5 178 5-79 5-2 5 92 5-43 5 26 5 8 5-18 5-32 5 124 5-168 5 113 5-3 5-1 5-11 5-80 5 100 5-98 5-22 5 21 5 30 5 79 5-49 5 26 5-93 5 103 5 7 5-63 5 53 5-93 5-87 5 97 5-123 5-38 5-123 5-16 5 0 5 0 5 35 5 98 5 27 5 89 5 82 5 2 5 17 5-28 5-28 5 34 5 40 5-90 5 2 5 104 5-134 5 47 5-72 5-97 5 51 5-51 5 0 5 0 5 67 5 20 5-7 5 57 5 8 5-12 5 80 5-14 5 61 5-40 5 29 5-57 5 79 5-54 5-22 5 111 5-65 5 21 5-79 5-1 5 65 5-13 5-2 5 18 5-46 5 74 5-97 5-8 5 87 5-1 5-100 5 60 5-32 5 48 5-34 5-24 5 20 5 39 5 1 5 1 5 9 5-20 5 55 5-83 5 17 5-19 5 99 5-41 5-77 5 59 5 8 5-35 5-65 5-4 5 75 5-95 5 51 5-59 5 9 5-100 5-10 5 67 5-64 5 60 5 79 5-74 5 46 5 82 5-73 5 59 5 71 5-177 5 187 5 5 5-85 5-1 5-25 5 50 5-1 5 15 5-20 5 60 5-59 5 6 5 67 5-37 5 21 5 25 5-83 5 43 5 14 5-18 5 25 5-2 5-52 5-5 5 11 5 26 5-57 5 100 5-49 5 8 5 33 5 52 5-112 5 12 5 7 5-11 5 99 5-72 5 7 5-27 5 95 5-27 5-94 5 42 5-40 5 11 5 34 5-38 5 64 5-28 5-4 5-48 5 10 5 53 5-4 5-15 5 15 5-106 5 2 5 54 5-13 5 85 5-100 5 57 5 66 5 9 5-40 5-17 5 24 5-79 5 63 5-31 5 73 5-29 5-12 5 43 5 1 5-1 5-76 5 0 5 63 5-16 5 3 5-44 5-42 5 94 5-71 5 84 5-120 5 53 5 60 5-54 5 48 5-81 5 80 5-100 5 16 5 141 5-74 5 20 5-45 5 29 5-6 5-103 5 144 5-64 5-6 5-10 5 50 5-85 5-9 5 22 5-20 5 0 5 19 5-11 5-40 5 25 5 84 5-28 5-27 5 7 5 3 5 64 5 30 5-121 5 47 5 19 5 40 5 24 5-55 5 14 5-35 5-54 5 74 5-44 5-72 5 82 5 13 5-43 5-20 5 141 5-80 5-40 5 45 5-24 5-26 5 75 5-67 5 45 5 0 5-46 5 0 5 90 5-42 5-33 5-40 5 104 5-94 5 15 5 63 5-74 5-66 5 20 5 22 5 6 5-6 5-62 5 0 5 0 5 0 5 0 5 0 5 0 5 6 5 81 5 23 5-14 5-17 5 69 5 13 5-35 5 47 5-41 5 19 5-13 5-67 5 45 5 0 5 4 5-3 5-63 5 45 5-11 5 82 5-29 5 23 5-2 5-19 5-24 5 28 5 0 5-67 5-16 5 117 5-80 5 11 5 9 5-39 5 19 5 9 5 30 5-47 5 39 5 3 5-11 5 21 5-48 5 21 5 53 5-17 5-14 5-67 5 7 5 104 5-65 5 51 5-106 5 124 5-3 5-43 5-16 5 35 5 41 5-87 5 74 5-22 5-11 5 12 5-81 5 32 5 63 5 8 5-60 5-2 5 40 5-136 5 81 5-23 5 40 5 51 5 22 5-46 5-32 5-11 5-8 5 26 5 31 5-48 5-6 5 54 5-10 5 135 5-22 5-97 5 51 5-76 5-79 5 72 5-7 5 34 5 114 5-139 5 28 5-53 5 32 5 0 5-16 5-65 5 19 5 20 5 18 5-49 5 16 5 43 5 46 5-87 5-12 5-12 5 45 5-3 5-15 5 66 5-45 5 29 5-53 5-19 5 82 5-9 5-47 5 54 5 26 5 4 5-19 5-66 5-24 5 84 5-13 5 29 5-58 5 32 5-70 5 53 5 28 5-67 5 31 5-14 5-23 5 11 5-45 5 114 5 8 5-119 5 104 5-81 5 45 5-32 5 60 5-21 5-9 5 63 5-5 5-99 5 39 5 27 5-46 5 103 5-38 5-56 5 16 5-44 5-11 5 3 5 113 5-49 5-49 5-10 5-6 5 87 5-84 5 26 5 0 5 10 5 56 5-42 5 25 5-12 5-4 5 4 5-54 5 92 5-21 5-3 5 9 5 1 5-14 5-32 5-132 5 239 5-106 5 33 5-14 5-73 5 51 5 51 5-51 5 26 5-9 5-26 5 24 5-30 5-12 5 45 5-1 5-15 5-40 5 9 5-44 5 15 5 88 5 18 5-64 5 16 5-32 5 57 5-70 5-23 5 77 5-19 5 44 5 0 5-36 5-35 5 182 5-151 5 69 5 7 5-95 5-12 5 46 5-3 5-34 5 37 5-20 5 24 5 44 5-74 5 25 5 21 5-10 5 18 5 2 5 12 5-100 5 61 5-56 5 60 5-39 5-22 5 61 5-7 5-72 5 6 5-1 5 120 5-32 5 10 5-38 5-12 5 89 5 11 5-16 5 24 5-31 5-28 5 30 5-2 5-26 5 30 5 1 5-8 5 33 5-16 5-109 5 53 5-43 5 66 5-31 5-62 5 97 5-36 5 45 5-93 5 80 5 17 5-66 5 47 5-170 5 187 5 6 5-90 5 38 5 27 5 6 5-18 5-48 5-49 5 1 5-9 5-18 5-63 5 33 5-28 5-60 5 23 5-15 5 155 5-64 5 27 5 107 5 13 5 31 5-11 5-13 5-55 5 29 5 8 5 35 5-110 5 136 5-37 5 40 5-55 5-5 5 48 5-99 5-25 5 13 5 12 5 3 5 87 5-11 5-59 5 56 5-92 5 25 5-120 5 117 5 13 5 2 5 40 5-12 5 66 5-98 5 77 5-77 5-15 5 37 5 62 5 7 5-61 5 18 5 36 5-49 5-70 5 65 5-24 5-64 5 19 5 1 5 78 5-62 5-11 5 64 5 49 5-7 5-35 5-33 5 24 5-10 5 15 5-59 5 0 5 58 5-5 5-24 5-18 5 49 5-57 5 81 5-76 5-17 5-26 5 83 5-69 5-5 5 86 5-54 5 78 5-48 5 63 5-65 5 10 5 6 5 27 5-72 5 72 5-86 5 82 5-59 5 71 5-109 5 98 5-15 5 21 5-27 5 44 5-24 5 6 5 19 5 14 5-92 5 106 5-120 5 71 5-22 5-26 5 17 5 70 5-151 5 79 5-97 5 124 5-22 5-32 5 74 5-65 5 26 5 21 5 32 5-63 5 1 5 27 5 2 5 34 5-67 5 75 5-42 5 30 5 68 5-151 5-3 5 51 5-19 5-54 5 119 5-109 5 5 5-19 5 107 5-110 5 82 5-17 5-30 5 49 5-77 5 3 5 4 5 1 5 34 5 12 5 19 5 30 5-32 5-50 5 37 5-29 5 46 5-3 5 56 5-101 5 55 5 0 5-33 5 55 5 2 5-25 5-3 5-12 5-2 5-15 5-9 5 49 5-12 5 10 5 0 5-81 5-11 5 19 5 73 5 1 5-34 5 77 5-64 5 14 5-55 5 37 5-18 5-78 5 32 5-52 5 39 5-89 5 31 5-38 5 55 5-40 5 81 5-37 5 15 5 97 5-41 5 78 5-22 5-39 5 61 5-66 5 37 5-76 5 120 5-7 5-110 5 74 5-14 5 24 5 21 5-76 5 80 5-34 5 2 5 57 5-69 5-34 5-28 5 55 5-81 5 110 5-62 5 2 5 14 5-10 5 83 5-3 5-15 5 27 5-93 5 23 5-51 5 25 5 5 5 50 5-70 5 114 5 0 5-105 5 1 5 121 5-96 5 17 5 129 5-57 5-15 5-67 5-11 5 28 5-88 5 83 5-84 5 7 5 37 5 30 5 49 5-83 5 7 5-37 5 115 5-40 5-13 5-67 5 10 5 86 5 20 5-61 5 29 5-60 5 30 5-24 5-8 5 32 5 27 5 54 5-106 5 56 5-54 5 22 5 18 5 93 5-98 5 36 5-58 5 15 5 76 5-101 5 49 5-33 5 20 5 73 5-93 5 98 5-36 5 7 5-55 5 0 5 71 5 8 5-103 5 38 5 72 5-48 5 53 5-88 5 22 5 56 5-39 5 100 5-92 5-80 5 57 5 75 5-98 5 68 5-97 5 15 5 57 5-7 5 2 5 28 5 22 5-91 5 52 5-100 5 55 5 68 5-46 5 69 5-38 5-52 5 61 5-128 5 68 5 13 5-35 5 50 5 13 5-64 5 22 5 61 5-86 5 63 5-28 5 8 5-50 5 54 5 15 5-11 5 4 5-68 5 111 5-34 5 4 5-82 5 54 5-22 5 34 5-56 5-42 5 71 5 55 5-89 5 101 5-41 5-29 5 10 5 22 5-63 5 51 5 39 5-28 5-11 5 27 5-12 5-77 5 11 5 18 5 30 5 90 5-2 5-92 5 26 5-30 5 7 5 68 5 4 5-15 5-81 5-10 5 95 5-89 5-35 5 9 5-10 5 6 5 27 5 31 5-52 5 96 5-125 5 143 5-97 5 26 5 45 5-11 5-9 5 38 5-56 5 50 5 9 5-59 5 8 5-22 5 3 5 37 5 26 5-75 5 31 5 85 5-36 5-35 5 42 5 39 5-44 5-107 5 66 5-13 5-43 5 58 5 36 5-4 5-27 5 48 5-62 5 82 5-60 5 49 5-10 5-71 5 8 5 42 5-16 5-56 5-19 5 43 5 82 5-20 5-58 5 69 5-63 5-3 5 42 5-21 5-66 5 71 5 12 5-4 5-22 5-31 5 32 5 68 5-33 5 44 5-118 5-8 5 52 5-35 5 81 5-114 5 29 5-16 5 37 5-41 5 26 5 22 5-20 5 77 5-44 5 22 5-41 5-36 5-34 5 83 5 46 5-70 5 96 5-81 5-23 5 85 5-92 5 52 5 88 5-9 5-75 5-2 5 8 5 48 5-79 5 30 5-61 5 93 5 15 5-75 5-7 5-13 5-10 5 46 5 29 5-14 5-28 5 38 5-36 5 54 5-46 5-28 5 64 5-84 5 143 5-111 5 14 5 3 5-58 5 61 5 53 5-18 5-28 5-33 5 118 5-80 5 71 5-58 5 41 5-85 5 77 5-152 5 113 5-4 5 9 5-66 5-26 5 15 5 86 5-92 5 1 5 40 5 45 5-56 5-21 5-8 5 27 5 86 5-83 5-16 5-51 5 68 5-17 5 67 5 69 5-101 5 22 5 7 5 24 5-10 5-73 5 62 5-33 5 68 5-29 5-33 5 68 5 0 5-27 5-28 5-7 5-47 5-4 5 80 5-51 5-9 5 6 5 57 5-22 5-12 5-33 5-15 5 2 5 97 5 9 5-87 5 47 5-52 5 75 5 32 5-28 5-72 5-25 5 82 5 91 5-97 5-17 5 23 5-60 5 84 5-96 5-14 5 102 5-110 5 76 5-69 5 92 5 9 5-33 5-31 5 14 5-68 5 6 5 56 5-49 5 75 5-39 5 32 5-41 5 75 5-8 5-36 5 18 5-9 5 34 5-76 5 101 5-118 5 113 5-4 5 20 5 4 5-36 5-24 5-3 5-17 5 16 5-23 5 16 5-11 5 13 5 56 5-57 5 10 5-48 5 15 5 42 5-1 5-66 5 52 5-66 5 3 5 28 5-7 5 57 5 30 5-104 5 87 5-1 5-46 5 57 5-49 5-6 5-8 5 65 5-51 5 10 5-75 5 0 5 34 5-34 5 0 5 0 5 44 5 11 5 40 5-25 5-16 5-14 5-61 5 116 5-47 5 47 5-33 5-2 5-81 5 29 5 58 5-35 5 53 5-92 5 2 5 41 5-58 5 22 5 43 5 16 5 9 5-56 5-8 5 27 5 7 5-16 5 78 5-105 5 103 5-27 5-27 5-9 5 56 5-36 5-26 5 4 5-38 5 95 5 0 5-91 5 53 5-26 5 66 5-58 5 21 5 45 5 15 5-30 5-9 5 80 5-40 5-38 5 16 5-40 5-32 5-13 5 6 5 78 5-13 5-40 5-35 5 47 5-34 5 58 5 26 5-96 5 87 5-71 5 37 5-9 5 87 5-83 5-30 5 78 5-102 5 65 5-76 5 106 5-80 5 41 5 42 5 6 5-4 5-48 5 58 5-64 5 32 5-46 5 15 5 84 5-21 5-8 5-40 5 59 5-70 5 43 5-93 5 59 5-2 5 47 5-32 5-4 5-20 5 26 5-5 5 52 5-38 5-57 5-6 5 49 5-18 5-26 5 35 5 30 5-66 5 26 5-17 5 31 5-78 5 58 5 49 5 34 5-45 5-14 5 78 5-67 5 71 5-43 5 16 5-73 5 16 5-52 5 24 5 1 5 14 5-60 5 124 5-77 5 41 5-18 5-35 5 32 5 84 5-93 5 99 5 59 5-135 5 46 5-65 5 84 5-63 5-33 5 77 5 11 5-48 5-103 5 33 5 98 5 8 5-104 5 58 5 16 5 40 5-93 5 57 5 33 5-51 5-4 5 25 5-30 5 70 5-66 5-16 5 55 5-119 5 90 5-33 5-12 5 19 5 60 5-94 5 23 5 62 5-37 5-35 5-1 5 75 5-6 5 14 5-34 5-36 5 74 5-92 5 31 5 5 5 89 5-64 5 26 5-87 5 65 5-85 5 78 5-30 5 78 5-101 5-21 5 100 5-97 5 71 5-74 5-44 5 86 5 75 5-96 5 1 5 23 5 78 5-40 5-35 5 50 5-61 5-10 5 97 5-110 5 91 5-63 5 84 5-91 5-5 5 29 5-22 5 24 5 24 5 7 5 7 5-65 5 14 5 79 5-49 5-8 5-6 5 2 5 2 5-7 5-48 5 27 5 43 5 23 5-53 5 31 5-76 5 42 5 20 5-11 5-12 5 52 5 22 5-77 5 3 5 62 5 6 5-60 5-8 5-21 5 49 5-16 5-63 5 60 5 38 5 1 5-72 5 18 5-4 5 73 5-48 5-30 5 37 5 68 5-87 5-1 5 5 5 57 5-9 5-2 5-101 5 105 5 0 5-52 5-21 5-26 5-3 5 47 5 26 5 9 5-36 5 68 5 11 5-34 5 20 5 25 5-73 5 4 5 78 5-5 5-6 5-65 5-41 5 97 5-67 5 0 5-53 5 33 5 7 5 31 5-68 5 36 5 57 5-72 5 97 5-108 5 116 5-41 5-19 5 49 5-87 5-33 5 100 5-31 5-50 5-10 5 66 5-42 5 37 5-13 5 86 5-125 5 48 5 9 5-10 5 2 5 3 5 35 5-15 5-84 5 81 5-90 5 74 5-68 5-8 5-1 5 41 5-12 5 21 5-19 5 29 5-34 5 100 5 9 5-7 5 18 5-119 5 136 5 18 5-178 5 87 5-54 5-17 5 2 5-10 5 25 5 28 5-24 5 83 5 5 5-2 5-27 5-65 5 12 5 89 5-15 5-87 5 102 5-87 5-7 5 101 5-54 5 10 5 66 5-61 5-3 5 53 5-88 5-14 5 91 5-105 5 55 5-58 5 98 5-68 5 82 5-71 5 14 5 19 5-91 5 64 5-40 5 95 5-57 5-44 5 83 5-9 5-2 5 2 5 0 5-51 5 39 5-51 5 48 5-55 5 43 5-31 5 51 5-30 5 49 5-3 5-10 5-63 5 76 5-74 5 63 5 7 5 57 5-67 5 78 5-16 5-71 5 67 5-36 5-41 5-3 5 69 5-12 5-34 5 30 5-4 5-4 5-8 5 11 5 10 5-58 5 75 5-58 5-10 5-18 5 19 5 34 5-9 5-58 5 40 5-45 5 54 5-95 5 110 5-65 5 74 5-9 5-38 5-43 5 44 5 4 5 16 5-19 5-5 5 10 5-16 5-21 5 36 5 19 5-17 5-60 5 43 5-23 5 5 5 4 5-36 5 15 5 82 5-56 5 24 5-28 5 37 5-80 5 35 5 36 5-58 5 88 5-101 5 28 5 34 5 27 5 17 5-6 5 11 5-34 5 19 5-83 5 97 5-56 5 64 5-77 5 22 5-44 5 69 5-64 5 74 5-5 5-45 5 11 5 49 5-21 5-23 5 92 5-102 5 25 5-57 5 13 5-37 5 52 5-45 5 121 5-105 5 7 5 69 5 45 5-4 5-48 5 18 5-62 5 21 5 13 5-6 5 38 5-5 5-83 5 85 5-19 5-28 5-31 5 78 5-85 5 103 5-23 5-25 5-3 5 27 5-9 5 1 5 16 5-46 5-8 5-18 5 7 5-21 5 79 5 23 5-93 5 52 5-37 5-2 5 7 5 50 5-60 5 34 5 28 5-54 5 8 5 4 5 16 5-27 5 19 5 17 5 20 5-63 5 92 5-75 5-9 5 54 5-53 5-9 5-4 5 57 5-6 5-66 5 30 5 47 5 0 5-34 5 13 5 41 5 12 5-59 5-13 5-6 5 70 5 71 5-54 5-61 5 58 5-56 5 9 5 30 5-42 5 91 5-85 5 3 5 16 5-52 5 20 5-15 5-2 5-13 5 11 5 10 5 11 5 53 5-48 5 2 5-7 5-17 5 72 5-102 5-15 5 24 5-7 5-18 5-18 5 69 5 20 5-30 5 45 5-24 5 34 5 90 5-123 5 16 5-41 5-18 5 30 5 32 5 20 5 32 5-64 5 46 5-30 5 17 5 33 5-70 5 70 5-62 5 32 5-24 5-20 5 14 5-20 5 66 5-19 5-63 5-12 5 17 5 47 5-2 5-50 5-9 5 62 5-29 5-23 5-18 5 64 5-41 5 22 5-21 5 26 5 35 5-14 5-40 5 5 5-15 5 80 5-35 5 49 5-6 5 9 5-71 5 67 5-5 5 7 5-7 5-37 5 0 5 67 5-78 5-39 5 75 5-16 5-8 5 17 5 1 5-60 5 42 5 56 5-84 5-25 5 7 5 30 5 39 5 5 5-16 5-6 5 8 5 6 5-62 5 17 5 49 5 4 5-102 5 60 5 37 5-69 5 34 5 48 5-2 5-50 5 32 5 36 5-14 5-66 5 27 5 24 5 2 5-54 5 48 5-84 5 82 5-37 5-52 5 63 5 19 5 10 5-82 5 78 5-109 5 16 5 43 5-153 5 213 5 0 5-81 5 96 5-88 5 107 5-25 5 0 5 8 5-141 5 148 5-21 5-15 5-70 5 48 5 41 5-71 5 37 5-45 5 79 5-20 5-10 5-61 5 78 5 11 5 1 5-64 5 85 5-123 5 14 5 8 5 17 5-41 5 93 5 34 5-38 5 32 5-38 5-43 5 140 5-133 5 51 5-7 5 0 5-14 5 1 5-4 5-7 5-19 5 3 5-15 5 58 5 0 5 13 5-67 5-24 5 65 5 11 5-65 5 28 5 34 5-19 5 23 5-60 5 78 5-56 5 20 5 47 5-101 5 180 5-139 5-30 5 37 5-61 5 56 5-35 5-2 5-7 5 9 5 22 5 69 5-91 5 104 5-32 5-15 5-35 5 67 5-77 5 56 5-17 5 60 5-62 5 35 5-81 5-19 5 75 5-19 5-42 5 81 5-31 5-1 5 4 5-17 5 7 5 31 5-41 5-3 5 6 5 10 5 47 5-12 5-53 5 61 5 11 5-60 5-47 5 70 5-6 5-27 5 5 5 54 5-78 5 31 5-57 5 69 5-3 5 13 5-45 5 115 5-103 5-22 5-18 5-11 5 36 5-18 5-9 5 136 5-114 5-24 5 51 5-8 5 54 5 5 5-31 5-74 5 67 5 21 5-54 5 92 5-59 5-57 5 92 5-99 5 83 5 17 5-55 5-37 5 62 5-5 5-12 5 43 5 16 5 8 5-59 5 34 5-61 5-45 5 102 5 12 5-85 5 47 5 20 5-3 5-78 5 6 5-2 5 67 5 37 5-49 5-99 5 61 5 66 5 40 5-87 5-4 5-5 5 2 5 41 5 7 5-11 5-45 5 67 5-78 5 90 5-29 5 17 5-40 5 26 5-19 5-5 5 30 5 3 5-1 5-16 5 29 5-20 5-3 5-7 5 9 5-38 5 13 5 13 5-42 5 9 5 31 5 5 5-14 5 35 5-49 5 9 5-12 5 40 5-18 5-25 5 66 5-15 5 8 5-3 5-57 5 84 5-72 5-12 5 94 5-51 5 44 5-46 5-31 5 3 5 71 5 13 5-132 5 117 5-53 5 22 5 30 5-68 5 31 5-30 5 43 5-59 5 61 5-122 5 45 5 9 5 57 5 47 5 9 5-56 5 15 5 7 5-37 5 33 5-76 5 15 5 49 5-80 5 37 5 62 5-20 5-31 5 32 5 34 5-95 5-5 5 19 5 71 5-67 5-112 5 187 5 4 5-5 5-82 5 26 5 35 5 37 5-96 5 39 5 18 5 24 5-97 5 61 5 20 5-79 5-8 5 43 5 56 5-10 5 34"/>
<path stroke="#0000ff" stroke-width="34" d="M2180 11479l5 90 5-130 5-30 5 75 5-21 5-85 5 113 5-13 5-100 5 85 5-66 5 67 5-46 5 46 5-111 5 80 5 11 5 45 5-47 5-48 5 99 5-33 5-87 5 4 5-22 5 137 5-126 5 0 5 111 5-135 5 130 5 20 5-18 5-28 5-25 5 9 5 9 5-191 5 19 5 74 5-82 5 0 5-1 5 1 5-121 5-23 5 24 5-126 5-124 5-381 5-292 5-516 5-625 5-1322 5-1265 5-1176 5-639 5-654 5-650 5-421 5-91 5 7167 5 663 5 104 5 118 5 154 5 120 5 61 5 10 5 41 5-57 5 155 5 17 5 6 5 88 5-183 5 4 5 186 5-134 5 65 5-76 5 85 5-76 5-37 5 31 5-14 5 114 5-100 5 171 5-107 5 64 5 34 5-122 5 19 5 18 5 17 5 4 5 42 5-20 5-64 5 20 5 102 5-104 5 69 5-75 5 59 5 49 5-14 5-20 5 13 5 24 5 51 5-27 5 97 5-62 5-64 5 39 5-30 5-75 5 27 5 16 5-12 5-9 5 98 5 44 5 25 5-33 5 67 5-146 5 157 5-59 5 68 5-129 5 68 5 3 5 20 5 26 5-99 5-24 5 102 5-72 5 74 5-30 5 63 5-31 5-47 5-40 5 59 5 79 5-81 5-20 5 156 5-76 5 36 5 80 5-81 5 19 5-23 5-53 5 60 5-2 5-29 5 37 5-9 5 14 5 26 5 11 5-59 5 31 5 18 5-67 5 70 5 15 5-88 5-50 5 86 5-90 5 39 5-50 5-15 5 26 5 98 5 30 5-89 5 93 5-99 5 47 5-55 5 19 5 40 5-29 5-7 5 15 5 87 5-51 5 102 5-110 5 58 5 36 5 26 5-2 5-16 5-80 5 84 5-18 5 23 5-80 5 57 5-58 5 64 5-19 5 15 5-92 5 109 5-25 5-62 5 20 5-31 5 156 5-52 5-80 5 11 5 56 5-16 5 50 5-106 5 19 5-38 5 26 5-16 5 77 5-69 5 47 5 4 5-86 5-114 5-100 5-287 5-407 5-549 5-524 5-234 5 234 5 529 5 565 5 421 5 253 5 171 5 86 5-22 5 52 5 16 5-31 5-3 5 74 5-51 5-10 5-46 5 84 5 85 5-42 5-11 5-32 5 46 5-102 5 106 5-12 5-84 5 17 5 72 5-30 5 55 5-21 5-39 5 30 5-26 5-57 5 95 5-20 5-8 5-52 5 25 5-20 5 73 5-133 5 129 5-56 5 35 5 48 5-100 5-1 5 126 5-18 5-68 5 35 5 113 5-52 5-88 5-24 5 112 5-123 5 21 5-32 5 95 5-69 5 25 5-8 5-57 5 31 5 71 5-54 5-59 5 2 5-65 5 79 5 44 5-35 5-106 5-101 5-170 5-312 5-426 5-393 5-176 5 178 5 401 5 403 5 326 5 185 5 90 5 105 5 18 5-24 5 54 5 7 5 17 5 16 5 46 5-38 5-26 5-42 5 79 5-99 5 107 5-5 5-89 5 7 5 63 5-88 5 59 5 16 5-6 5 26 5-46 5 37 5 37 5-146 5 121 5 16 5-79 5 20 5 1 5 33 5-88 5 17 5 33 5 3 5 15 5 66 5-110 5 97 5-65 5 47 5-42 5 33 5-69 5 2 5 58 5-26 5-40 5 58 5-88 5 119 5-105 5 15 5 76 5-94 5 9 5 27 5-30 5 111 5-98 5 98 5 5 5-96 5 44 5-54 5 54 5 16 5 6 5 60 5-67 5-77 5 38 5-38 5 19 5 19 5 51 5-66 5-39 5 4 5 51 5 2 5-93 5 84 5 22 5-55 5 6 5 73 5 15 5-26 5 12 5 16 5-13 5-91 5-13 5-12 5-80 5-8 5-48 5 47 5-11 5 71 5 47 5 5 5 88 5-14 5-32 5 73 5 55 5-72 5-97 5 88 5-63 5 27 5-26 5 35 5-32 5-27 5 40 5-5 5-17 5 16 5 23 5 35 5-47 5-3 5 7 5 18 5-35 5 10 5 64 5-106 5 74 5 35 5-23 5-50 5 40 5-86 5 111 5 11 5-23 5 12 5-54 5-33 5-1 5 61 5-76 5 21 5-29 5 43 5-8 5 31 5-27 5 11 5-75 5 4 5-9 5-16 5 75 5-22 5-121 5-114 5-237 5-374 5-509 5-478 5-215 5 213 5 481 5 496 5 392 5 244 5 124 5 68 5 6 5 33 5-32 5 58 5 25 5 26 5-70 5-45 5-12 5-5 5 51 5 73 5-2 5-55 5-38 5 119 5-83 5-33 5 107 5 12 5-51 5 14 5-15 5 22 5-12 5-37 5 22 5 25 5-55 5 33 5 19 5-41 5-28 5-18 5 53 5-46 5 34 5 71 5-1 5-59 5 11 5 60 5-91 5 27 5-70 5 44 5-6 5 79 5-7 5-84 5-16 5 90 5-33 5 31 5-63 5 6 5 55 5 29 5-11 5-56 5 31 5-11 5 16 5-12 5-57 5 67 5-78 5 44 5 56 5-15 5-30 5 42 5-74 5 27 5 9 5 116 5-97 5 40 5 3 5-24 5 29 5-24 5 25 5-86 5 49 5-18 5 4 5 19 5 7 5-4 5 62 5-90 5 37 5 34 5-22 5-46 5 59 5 10 5 32 5-118 5-39 5 101 5-83 5 8 5-6 5 90 5-38 5-7 5-2 5-19 5 0 5 13 5 17 5-7 5-19 5 7 5 38 5 15 5-32 5-10 5-2 5 0 5-67 5-3 5 15 5 69 5-87 5 52 5-46 5-7 5-61 5-108 5-97 5-78 5-58 5 55 5 58 5 116 5 106 5 97 5-41 5 81 5-19 5-9 5-50 5-6 5 77 5-3 5 42 5-101 5-41 5 21 5 97 5 22 5-74 5-89 5 41 5 105 5-94 5-14 5 27 5 89 5-161 5 56 5-4 5-1 5-26 5 38 5 30 5-41 5 114 5-104 5 79 5-77 5 11 5 75 5 34 5-17 5-19 5 50 5-24 5-97 5 20 5-62 5 111 5-65 5-4 5 20 5-28 5-36 5 40 5 22 5 15 5-1 5-20 5-43 5 48 5-16 5 52 5-62 5-8 5 9 5 37 5-20 5-54 5-93 5-80 5-167 5-196 5-184 5-78 5 77 5 181 5 202 5 164 5 92 5 37 5 70 5-38 5 11 5 46 5 40 5-37 5 36 5-53 5 97 5-23 5 3 5 35 5-115 5 2 5-60 5 88 5-18 5 31 5-2 5 7 5-29 5 72 5-63 5-19 5 63 5 15 5-1 5-67 5 42 5 23 5-56 5 64 5-57 5 46 5-43 5 2 5-135 5 33 5-113 5 0 5 0 5 50 5 39 5 111 5-14 5 1 5-23 5 199 5-171 5 27 5-45 5 104 5-52 5 0 5 19 5 19 5-86 5-4 5 10 5 72 5 40 5-51 5 8 5-80 5 3 5-13 5-86 5 105 5 46 5 11 5-64 5 20 5 15 5-47 5 46 5-45 5-28 5 114 5 24 5-28 5-9 5-110 5 19 5 100 5-35 5 46 5-6 5 32 5-52 5-42 5-12 5 88 5-65 5-38 5 47 5 48 5-64 5 36 5 5 5-64 5-7 5-1 5-78 5-58 5-91 5-117 5-51 5 64 5 76 5 117 5 32 5 132 5-39 5 90 5-50 5-35 5 5 5 77 5-5 5-89 5-10 5 17 5 184 5-93 5-51 5 27 5-2 5-71 5-44 5 50 5-2 5-128 5 137 5 5 5 55 5-86 5 16 5-47 5-47 5 0 5-128 5-131 5-219 5-422 5-536 5-599 5-521 5-211 5 211 5 518 5 611 5 513 5 422 5 250 5 155 5 54 5 42 5-5 5-32 5-95 5-139 5-20 5 16 5 150 5 110 5 83 5-18 5 55 5 27 5-67 5-26 5 124 5-87 5 96 5-100 5 21 5 86 5-54 5 9 5-57 5-86 5 176 5-118 5 109 5-66 5 29 5-84 5 10 5 90 5-65 5-25 5-51 5 39 5-69 5-129 5 0 5 53 5 55 5-21 5 50 5 42 5 98 5-64 5 43 5 75 5 24 5-84 5-33 5 39 5-78 5 52 5 55 5 6 5 23 5 0 5-60 5 24 5 5 5-32 5 60 5-32 5-75 5 10 5 40 5 39 5-3 5-30 5 37 5-43 5-42 5-27 5 92 5-29 5-48 5 82 5-51 5 11 5 37 5-14 5 37 5 0 5 32 5-9 5 17 5-21 5-94 5 6 5-15 5 1 5 19 5 64 5-45 5 23 5-12 5 23 5-108 5 39 5 69 5-38 5 58 5 43 5-61 5-34 5-4 5 12 5-54 5 35 5-41 5 69 5-97 5 132 5-141 5 89 5-67 5 51 5 48 5-111 5 75 5-4 5 67 5-122 5 114 5-66 5 4 5 81 5-130 5 51 5-65 5 12 5 37 5-48 5 93 5-77 5-25 5-16 5-17 5 63 5-73 5 24 5-78 5-158 5-198 5-327 5-473 5-563 5-501 5-209 5 209 5 495 5 560 5 497 5 325 5 210 5 124 5 27 5 74 5-41 5 66 5-20 5-40 5 108 5-97 5 44 5 49 5 64 5-59 5-49 5 58 5-20 5-11 5 21 5-10 5-17 5-37 5 50 5-49 5 10 5-43 5-48 5 64 5 105 5-105 5-19 5 74 5 9 5-34 5 27 5-29 5-15 5 64 5 8 5-75 5 107 5-29 5-57 5 54 5-82 5 111 5 27 5-120 5 21 5-19 5 82 5-2 5 24 5-12 5-67 5-2 5 48 5 67 5-116 5 39 5-26 5 85 5-109 5 45 5-14 5 36 5 50 5-106 5 135 5-51 5-105 5 11 5 1 5 103 5-82 5 26 5 12 5 52 5-70 5 8 5 47 5-80 5 6 5 49 5-68 5 29 5 3 5-25 5 89 5-128 5-4 5 21 5 41 5-51 5 106 5-70 5 1 5-36 5-6 5 131 5-39 5-10 5-73 5 48 5-3 5-17 5-53 5-1 5-129 5-12 5-86 5-104 5-18 5-47 5 37 5 19 5 130 5 75 5 93 5 33 5 34 5-7 5 66 5-58 5-92 5 109 5-12 5-38 5 9 5 109 5-117 5 74 5 74 5-87 5 28 5-37 5 55 5-74 5 57 5-36 5 49 5-108 5-19 5 81 5-58 5 137 5-37 5-120 5 91 5-3 5 1 5-27 5-3 5-20 5-37 5-70 5 114 5-28 5-34 5-51 5-93 5-112 5-187 5-209 5-166 5-60 5 59 5 174 5 198 5 192 5 125 5 59 5 88 5-16 5 36 5 16 5-76 5 13 5 4 5 147 5-130 5-7 5 71 5-116 5 23 5-43 5 62 5 9 5-86 5-60 5-173 5-205 5-338 5-441 5-470 5-393 5-153 5 154 5 395 5 464 5 446 5 323 5 225 5 132 5 137 5 17 5-19 5 53 5-17 5 15 5 30 5 65 5-124 5 55 5 12 5-8 5 39 5-81 5 46 5 77 5-38 5 42 5-49 5-37 5 63 5 77 5-122 5 31 5 22 5-7 5-37 5-22 5-37 5 54 5 29 5-82 5 33 5-8 5-44 5-130 5-102 5-165 5-181 5-205 5-166 5-65 5 65 5 171 5 217 5 194 5 169 5 139 5 37 5 37 5 93 5-46 5 52 5 8 5 19 5 20 5 10 5-68 5 70 5-8 5-89 5 101 5-103 5 24 5-76 5 114 5-107 5-70 5-46 5-5 5 0 5 169 5 24 5-81 5 131 5-44 5-37 5 70 5-34 5-44 5 120 5-90 5-39 5 69 5 28 5-16 5-34 5-27 5 126 5-102 5 110 5-18 5-20 5-17 5 102 5-60 5-133 5 75 5-34 5-20 5 76 5-42 5-1 5-108 5 141 5-24 5-37 5 54 5-40 5-36 5-28 5-24 5-121 5-116 5-162 5-185 5-192 5-150 5-58 5 57 5 154 5 191 5 203 5 162 5 123 5 70 5 41 5 36 5-7 5 16 5-1 5 19 5 16 5 39 5-50 5 55 5 61 5-95 5-41 5-41 5-76 5-51 5-61 5-64 5 0 5 49 5 105 5 103 5-32 5 100 5 30 5 7 5 49 5-86 5 65 5-6 5-10 5-53 5 64 5-9 5 29 5-22 5-125 5 79 5-70 5 0 5 19 5-19 5 38 5-16 5-22 5 51 5 1 5-39 5 74 5-34 5 25 5 13 5-10 5 56 5-23 5 7 5 38 5-101 5 58 5-106 5-55 5-45 5 74 5-10 5 135 5-25 5-27 5-9 5 133 5-66 5-36 5 61 5 4 5 19 5-55 5 53 5 2 5 37 5-43 5-3 5 15 5-166 5 200 5-83 5 15 5-13 5 29 5 43 5-19 5-18 5-27 5 37 5 24 5-15 5 44 5-83 5 116 5-109 5 37 5-73 5 52 5 15 5-13 5-58 5 21 5 174 5-74 5-3 5-48 5 155 5-80 5-27 5-88 5 10 5 30 5 10 5-46 5 73 5-86 5 96 5-58 5 26 5-48 5 50 5 28 5-7 5 48 5-53 5-125 5 87 5 41 5 25 5-105 5 65 5-14 5 73 5-68 5 51 5-50 5 84 5-54 5 1 5 18 5-10 5-87 5 110 5-10 5-3 5 7 5-60 5 36 5 38 5-1 5-116 5 14 5 35 5-12 5-23 5 17 5-80 5 15 5-62 5-79 5-102 5-61 5-89 5-25 5 0 5 110 5 106 5 73 5 93 5 54 5 27 5 29 5 20 5-52 5 31 5-1 5-19 5 10 5-26 5 19 5-15 5-29 5 28 5-10 5-12 5 80 5 28 5-11 5 3 5-119 5 13 5 71 5 2 5-55 5-3 5 82 5-57 5-1 5-20 5-3 5 1 5 41 5 0 5 30 5-6 5-30 5 13 5 6 5-62 5 98 5 0 5 4 5-20 5-7 5 52 5 39 5-87 5-20 5 83 5 60 5-79 5-118 5-17 5 65 5 27 5-58 5 53 5-27 5-20 5 58 5-45 5 5 5-6 5 23 5 19 5 20 5 34 5-116 5 90 5-75 5-7 5-26 5 82 5-81 5 65 5 15 5 90 5-129 5 34 5 75 5-80 5 14 5-12 5-24 5 20 5 12 5-9 5-45 5 33 5 34 5-11 5-64 5 30 5-34 5 42 5-12 5-6 5 15 5-56 5 14 5 16 5 66 5 18 5-54 5-14 5 8 5 62 5-91 5 111 5-102 5 27 5 25 5-67 5 30 5-13 5 33 5-14 5-43 5-4 5 0 5 124 5-61 5 36 5-39 5-34 5 70 5-8 5-5 5-13 5-57 5 117 5-97 5 11 5 52 5-94 5 16 5 40 5-58 5 45 5 26 5 23 5-99 5-46 5 103 5 2 5 6 5-72 5 4 5 46 5-49 5-5 5 74 5-52 5-54 5-17 5-102 5 4 5-62 5 0 5 25 5 119 5 19 5 44 5 27 5 44 5-43 5 19 5-8 5-19 5 44 5-2 5 33 5-65 5 24 5 7 5-109 5-56 5 3 5-96 5-14 5-39 5 0 5 43 5 85 5 48 5 61 5 131 5-35 5 125 5-51 5-56 5 6 5 9 5 14 5-14 5-23 5 8 5-10 5 48 5-32 5-39 5 108 5-45 5-65 5 16 5-43 5-2 5 107 5-106 5 111 5-36 5 3 5-24 5-59 5 83 5 34 5-31 5-62 5 22 5 41 5-27 5-2 5-29 5 46 5-23 5 4 5 55 5-44 5 18 5-86 5 111 5-80 5-45 5 12 5-44 5 40 5-102 5 36 5-91 5 4 5-27 5 44 5 11 5 4 5 10 5 73 5-28 5 127 5-57 5 54 5 15 5-57 5 49 5 52 5-31 5-30 5-6 5 74 5-56 5-4 5-34 5 34 5-36 5 41 5 62 5-108 5 112 5-50 5-5 5 37 5-116 5 45 5 21 5 68 5-19 5-15 5-18 5-79 5-16 5-10 5-31 5 0 5 80 5 11 5 36 5-26 5-18 5-3 5 70 5-39 5 8 5 31 5-20 5-26 5 67 5 35 5 3 5-58 5 60 5-23 5-101 5 110 5-18 5 8 5-1 5-29 5 44 5-106 5 19 5 75 5-5 5-84 5 48 5-49 5 84 5-50 5 57 5-22 5 22 5 6 5 81 5-145 5 6 5 55 5-106 5 38 5 63 5 50 5-92 5-42 5 68 5-2 5-12 5-4 5-2 5-24 5 12 5 9 5 67 5 20 5-12 5-71 5 59 5-68 5 40 5-26 5 20 5-34 5-31 5 63 5 40 5-74 5-26 5 83 5-49 5-25 5-8 5-21 5 82 5-18 5-14 5-22 5 21 5 47 5 2 5 16 5-93 5 98 5-46 5-25 5 19 5 20 5 14 5-57 5 73 5-72 5-16 5-11 5 8 5 14 5 5 5-53 5 57 5 23 5 34 5 33 5-78 5 74 5-34 5 2 5-56 5 61 5-70 5 53 5 11 5-60 5 53 5-13 5-77 5 51 5 86 5-94 5 113 5-12 5-36 5-53 5-4 5 49 5 23 5-95 5 94 5-46 5-48 5 7 5-35 5 52 5-71 5 51 5-90 5 12 5 44 5-44 5 0 5 62 5-33 5-14 5 46 5 35 5-57 5 5 5 19 5 12 5 87 5-16 5 8 5-3 5 10 5-67 5-8 5-24 5 69 5-11 5 31 5-71 5 39 5 27 5-5 5-23 5-59 5-9 5-76 5-19 5 0 5 0 5 5 5 72 5 46 5 50 5-13 5-42 5 57 5-15 5-30 5 72 5-36 5-25 5 89 5-76 5-7 5 56 5-48 5 3 5 37 5-15 5 1 5-60 5 10 5-12 5 51 5-54 5 49 5-6 5 5 5-46 5 101 5-61 5-16 5-24 5 62 5 52 5-34 5 45 5-37 5-66 5 34 5-5 5 13 5 16 5 7 5-47 5-5 5 57 5-39 5 69 5-63 5 35 5-20 5-64 5 60 5-31 5 7 5-35 5 33 5 24 5-9 5 15 5-83 5 11 5 21 5-24 5 32 5-26 5 32 5 38 5-78 5 15 5 69 5 1 5-75 5 93 5-91 5 28 5 9 5 63 5-23 5-12 5-1 5 22 5-84 5 96 5-90 5-28 5 63 5-4 5-37 5-45 5 47 5 1 5 4 5 37 5-32 5-20 5 71 5-37 5 37 5 23 5-67 5 43 5-68 5 84 5-15 5-28 5-38 5-10 5 37 5 53 5-42 5 13 5-40 5-5 5 51 5-164 5 186 5-60 5-56 5 87 5-48 5-4 5-7 5-67 5 0 5 53 5 1 5 36 5-42 5 95 5-24 5-32 5 70 5-47 5 7 5-31 5 63 5 9 5-89 5 8 5 35 5-49 5 4 5 7 5-30 5 0 5 14 5 63 5-36 5 14 5-7 5-26 5-26 5 3 5 77 5-67 5 86 5-45 5-4 5 50 5-67 5-72 5 139 5-41 5 5 5-60 5 84 5-23 5 22 5 37 5 0 5-1 5-78 5 86 5 3 5-86 5 126 5-113 5-23 5-96 5-37 5 0 5 18 5 42 5 23 5-10 5 116 5-26 5 21 5 18 5-43 5 54 5 8 5-52 5 34 5 24 5-54 5-52 5 43 5 54 5-66 5 28 5 8 5-76 5 42 5-12 5 10 5-56 5-7 5-49 5-44 5-52 5-5 5 0 5 62 5-12 5 79 5 25 5 76 5-63 5 80 5-68 5 30 5 64 5-2 5-21 5 30 5-2 5 9 5-37 5-57 5 16 5 18 5 17 5 48 5-36 5-12 5 9 5-32 5 81 5-36 5 34 5-41 5-59 5-8 5 88 5-4 5 19 5-42 5-55 5 32 5 37 5 42 5-38 5-16 5 34 5-46 5-31 5 61 5 14 5-18 5 35 5-65 5 14 5 44 5-69 5-5 5 58 5-46 5 17 5-22 5 26 5-31 5-29 5-7 5-14 5 23 5-66 5-47 5-35 5-24 5-70 5-59 5 0 5 25 5 53 5 37 5 86 5 64 5 42 5 36 5-7 5 22 5-14 5 66 5-49 5-21 5 55 5-37 5-33 5 52 5-112 5 146 5-14 5-30 5-46 5 61 5-50 5 5 5 22 5 54 5-12 5-83 5 37 5-33 5 2 5-12 5 30 5 38 5-76 5 93 5-78 5 96 5-62 5 39 5-32 5-18 5-27 5 89 5-31 5-83 5 45 5-49 5-26 5 18 5 21 5 75 5-40 5 33 5-36 5-25 5 39 5 26 5 12 5-37 5-30 5 28 5 44 5-20 5-33 5 37 5 22 5-15 5-19 5-23 5 10 5 73 5-90 5 48 5 17 5-25 5-38 5 72 5-68 5 1 5 74 5-68 5-12 5-20 5 50 5 12 5-35 5 12 5-14 5 52 5-88 5 29 5 16 5-67 5 46 5 23 5 37 5-28 5-61 5 87 5-60 5-1 5 4 5 47 5 12 5-26 5 31 5-91 5 42 5-26 5 44 5-45 5 31 5 15 5-19 5-5 5 13 5 18 5-24 5 48 5-14 5-61 5 2 5 60 5-49 5 26 5 97 5-32 5-84 5 22 5 24 5-11 5-40 5-7 5 87 5-52 5 8 5 59 5-62 5 61 5-68 5 18 5 40 5 8 5-40 5-15 5 59 5-16 5-129 5 112 5-59 5 69 5-62 5 95 5-90 5 39 5-67 5 18 5 73 5-5 5 1 5-81 5 46 5 52 5-62 5-75 5-2 5 91 5-8 5-46 5-3 5-34 5 41 5 46 5 8 5-72 5 93 5-2 5-55 5 34 5 6 5-47 5-27 5 72 5-52 5 58 5-21 5-130 5 119 5-22 5-78 5 52 5-51 5 5 5-97 5-9 5 9 5-41 5-19 5 44 5 14 5-46 5 64 5 86 5-44 5 37 5 93 5-90 5 34 5 60 5-17 5-50 5 75 5-79 5 57 5-73 5 82 5 34 5-87 5 25 5-6 5-12 5 2 5 5 5 23 5 11 5 5 5 33 5 2 5-99 5 17 5 23 5 33 5-7 5 42 5-15 5-78 5 93 5-75 5 13 5-27 5 38 5 6 5 7 5-42 5 16 5 52 5-63 5 15 5 36 5 24 5-10 5-47 5 7 5 22 5-12 5 6 5-4 5-63 5 8 5 75 5-53 5 17 5-41 5 66 5-18 5 10 5-15 5 1 5 21 5-22 5-8 5-25 5 64 5-14 5 15 5-20 5 37 5-29 5 39 5 1 5-89 5 61 5-82 5 67 5-70 5-8 5 90 5-111 5 81 5-35 5 56 5-20 5 66 5-52 5 70 5-8 5-25 5-48 5 66 5-51 5-45 5 30 5 52 5 11 5-80 5-70 5 141 5-106 5 58 5-22 5-6 5-2 5 62 5 16 5-46 5 63 5-77 5 54 5-47 5 63 5-20 5-82 5 77 5 20 5-75 5-2 5 12 5-37 5 56 5-59 5 46 5 39 5-55 5 42 5 15 5-24 5-54 5 68 5 35 5-95 5 64 5-41 5-4 5 59 5-79 5 7 5-3 5 49 5 45 5-52 5 8 5-36 5 8 5 47 5-39 5-11 5-3 5-22 5 96 5 3 5-68 5-42 5 42 5-26 5 1 5 68 5 7 5-56 5-4 5-21 5 32 5-6 5-93 5 75 5-67 5 0 5 0 5 27 5 17 5 28 5-90 5 8 5 77 5-25 5-1 5 5 5-6 5 97 5-68 5 52 5-24 5-5 5-43 5 22 5 77 5-97 5 50 5-5 5-7 5 48 5-56 5-27 5 42 5-17 5-28 5 44 5-22 5-21 5-18 5 51 5 34 5-3 5-47 5 49 5-44 5-30 5 93 5-76 5 33 5-31 5 49 5 20 5-58 5 53 5-44 5-5 5 67 5 2 5-41 5 13 5 25 5-100 5 144 5-103 5 31 5-37 5 50 5 36 5-36 5-31 5 68 5 9 5-70 5 53 5-54 5-16 5 63 5 29 5-82 5 74 5-19 5-79 5 52 5-11 5-71 5 1 5 71 5-90 5-15 5 34 5-25 5-78 5-12 5 0 5 19 5 40 5 25 5 15 5 75 5-54 5 17 5 9 5 81 5-23 5-64 5 47 5-32 5-20 5 35 5-28 5-22 5 38 5-34 5 73 5-24 5-10 5-33 5-9 5 66 5 17 5-98 5 68 5 12 5-112 5 129 5-56 5-11 5 52 5-12 5-28 5 42 5-3 5 13 5-110 5 99 5-31 5-31 5-53 5 4 5-23 5 14 5-14 5 45 5 64 5-6 5-19 5 66 5-55 5 44 5 13 5-55 5 82 5-18 5-36 5 11 5-23 5 64 5-51 5 10 5 71 5-39 5-4 5 28 5 21 5-71 5 62 5-47 5 79 5-34 5 29 5-154 5 62 5 68 5-80 5 57 5-22 5 32 5 17 5-61 5 65 5-47 5 34 5 71 5-80 5-27 5-22 5-6 5 13 5 4 5-12 5-9 5 30 5 20 5 44 5 4 5-36 5-18 5-10 5 9 5-21 5 4 5-28 5 6 5 66 5-69 5-13 5 60 5-15 5 6 5-17 5 37 5-59 5-35 5 47 5-24 5 110 5-46 5 19 5-49 5-19 5-3 5 66 5 0 5-41 5 8 5 1 5-62 5 92 5-18 5-38 5-8 5 42 5-5 5-37 5-7 5-25 5 66 5-26 5 36 5-5 5-24 5 36 5-49 5 25 5-11 5-1 5 37 5-50 5-4 5 67 5 10 5-81 5 59 5-43 5 60 5-77 5 32 5 48 5-53 5 62 5-44 5-49 5 69 5-70 5 22 5-4 5-12 5 85 5-65 5 56 5 3 5-37 5-51 5 45 5-52 5 67 5-58 5 37 5-5 5-4 5 21 5 35 5-14 5-18 5-41 5 29 5 12 5 38 5 24 5-14 5-82 5 86 5-15 5-57 5-19 5-22 5 18 5 14 5 45 5-18 5 31 5-6 5-2 5 19 5-20 5-21 5 29 5-35 5 29 5 6 5-84 5 2 5-1 5 5 5-50 5 36 5-78 5-60 5 7 5-58 5 0 5 27 5 7 5 26 5 35 5 33 5 51 5 0 5 20 5 26 5-15 5-25 5 80 5-31 5 32 5-79 5 59 5-41 5 38 5-27 5-45 5 37 5 50 5-5 5-1 5-77 5 81 5-68 5 67 5-52 5 23 5-45 5 57 5-35 5 23 5-53 5 63 5-68 5 0 5-9 5 89 5 42 5-77 5 20 5 25 5-13 5 13 5-96 5 51 5 17 5-57 5 57 5-72 5 49 5 65 5-24 5-12 5 25 5-15 5 11 5-51 5-41 5 25 5-2 5 18 5 5 5 16 5-17 5-6 5-20 5 6 5 14 5-43 5 28 5-5 5-16 5 39 5 4 5 32 5-45 5 25 5-31 5 79 5-22 5-32 5 57 5-16 5 15 5-42 5 8 5-25 5 48 5 12 5-88 5 18 5-11 5-3 5-19 5-13 5 2 5 32 5 81 5-47 5-1 5 12 5-34 5-9 5 30 5-14 5-7 5 34 5 16 5-80 5 11 5 32 5 23 5-33 5 42 5-8 5-7 5-47 5 75 5 11 5 6 5-54 5-13 5-13 5 79 5-37 5 22 5-12 5 4 5-55 5 42 5 3 5-53 5 62 5-58 5 1 5 74 5-75 5 84 5-85 5 41 5 45 5-90 5 32 5 7 5 39 5-19 5-7 5 22 5-9 5 33 5-18 5 18 5 16 5-75 5 8 5 61 5-16 5-15 5-40 5 72 5-41 5-34 5-19 5-10 5-5 5 55 5-62 5 68 5-52 5 50 5-68 5 1 5 18 5 32 5-12 5-54 5 80 5-72 5-19 5-1 5 60 5-39 5 22 5 1 5 48 5-95 5-1 5 0 5 0 5 11 5 29 5-28 5-11 5 82 5-122 5 121 5 18 5-85 5 75 5-21 5-8 5 79 5-22 5 5 5-12 5 21 5-43 5 44 5-28 5-44 5 24 5-3 5-6 5 67 5-77 5-11 5 64 5-2 5-61 5 44 5 8 5-22 5-4 5-6 5-40 5 73 5 19 5 27 5-66 5 35 5 17 5-50 5 30 5 6 5-83 5 59 5-41 5 41 5 26 5-6 5 15 5-36 5 7 5 7 5 6 5 32 5-12 5-58 5 14 5-38 5 24 5 43 5 21 5-4 5-48 5-37 5 42 5-19 5 53 5-32 5 8 5-1 5-14 5-22 5 73 5-31 5-1 5-21 5-12 5 8 5-23 5 34 5 56 5-18 5-10 5 13 5-35 5-26 5-21 5 34 5-35 5-1 5 31 5 51 5-32 5 52 5-35 5-22 5 59 5 12 5-54 5 58 5-75 5-30 5 55 5 8 5-8 5-72 5 52 5-3 5 13 5-18 5-31 5 61 5-40 5 18 5 27 5-68 5 40 5-56 5 57 5 6 5-39 5 13 5-34 5 55 5 47 5-36 5-12 5 15 5-33 5 50 5-71 5 17 5 70 5-20 5 22 5-46 5 10 5 19 5-18 5 36 5-123 5 35 5-1 5 55 5-25 5 14 5-30 5-27 5 11 5 58 5-36 5 64 5-34 5-66 5 108 5-69 5 44 5 8 5-16 5-8 5-11 5 9 5 24 5-80 5 55 5 22 5-31 5-8 5-21 5 19 5 4 5-20 5-41 5 74 5-44 5-2 5 3 5-19 5 87 5-24 5-13 5 0 5 40 5-3 5-65 5 52 5-12 5 32 5-33 5-47 5 80 5-34 5 16 5-6 5 61 5-107 5 57 5 2 5-79 5 107 5-49 5-2 5 57 5-37 5 30 5-107 5 113 5-29 5 15 5-70 5 86 5-17 5-62 5 83 5-51 5 14 5-33 5 12 5-20 5 14 5-12 5 48 5-63 5 15 5 28 5 27 5-85 5 8 5 24 5-32 5 54 5-25 5-19 5-35 5 38 5 72 5-88 5 94 5-34 5-17 5-20 5 37 5-21 5 14 5 18 5-41 5 39 5 42 5-69 5-2 5 19 5-48 5 40 5 73 5-111 5-11 5 27 5 60 5-71 5 47 5-115 5 72 5 22 5 26 5-62 5 43 5-62 5 0 5 26 5-19 5 67 5 1 5-14 5 5 5 42 5-61 5-12 5 12 5 52 5-45 5-35 5-5 5 21 5-31 5 88 5-54 5 29 5 7 5 4 5-61 5 1 5 39 5-63 5 17 5 38 5-22 5 24 5 25 5-77 5 69 5-41 5 17 5-18 5 30 5-31 5-46 5 66 5-18 5-2 5-20 5 39 5 4 5 54 5-62 5 27 5 23 5 0 5-24 5-11 5-43 5-17 5 88 5-63 5 48 5 10 5-84 5 24 5-8 5 62 5-4 5-58 5 18 5-15 5 15 5 3 5 20 5 30 5 37 5-35 5 39 5-69 5 39 5-21 5-8 5-18 5 48 5-40 5-12 5 23 5 7 5-5 5 5 5 2 5 0 5 20 5-59 5 25 5-22 5 3 5 13 5 33 5 9 5-42 5 20 5-42 5 15 5 45 5-72 5 73 5-59 5-5 5 22 5-11 5 85 5-16 5-43 5 49 5-53 5 46 5-28 5 54 5-130 5 111 5-31 5-24 5 35 5-52 5 70 5-57 5 19 5 1 5-14 5-10 5-21 5 45 5-34 5 43 5-59 5 53 5-8 5 30 5-58 5 9 5 50 5 28 5-1 5-55 5 24 5 19 5-13 5-64 5 50 5-65 5 93 5-90 5 90 5-55 5-10 5-2 5 13 5 44 5 4 5-5 5-72 5 27 5 28 5-69 5 32 5-22 5 67 5-41 5-6 5 18 5-6 5 2 5 46 5-31 5-9 5 12 5-54 5-6 5 76 5-83 5 10 5 62 5-28 5 40 5-56 5 92 5-34 5-38 5 31 5-68 5-13 5 12 5 28 5 15 5-83 5 40 5 55 5-36 5-4 5 31 5-26 5 72 5-35 5-28 5 4 5 75 5-12 5-41 5-20 5 31 5 35 5-49 5-23 5-3 5 43 5 19 5-57 5 57 5-13 5 3 5-74 5 91 5 3 5-85 5 80 5-38 5 93 5-35 5-79 5-7 5 94 5-34 5 3 5-50 5 34 5-33 5 33 5 35 5-34 5-48 5 3 5 13 5 68 5-1 5-47 5 48 5-69 5-5 5-3 5-20 5 81 5-55 5-21 5 14 5 54 5-1 5-13 5-18 5 43 5 16 5-77 5 33 5-13 5-20 5 39 5-13 5-8 5 17 5-43 5 41 5 28 5-91 5 92 5-25 5 35 5-60 5 22 5-28 5 69 5-76 5 9 5 0 5 37 5-31 5-26 5 6 5 62 5-71 5-8 5 87 5-92 5 68 5-31 5 65 5-31 5-44 5 43 5 5 5-6 5 34 5-29 5-38 5 28 5-33 5 50 5-56 5 63 5-37 5 34 5-7 5-72 5 28 5 40 5-4 5-51 5 88 5-16 5 20 5-98 5 38 5-3 5-5 5 68 5-28 5-10 5 34 5-36 5-15 5 10 5-23 5-10 5 66 5-2 5-82 5 62 5 7 5-22 5 44 5-41 5 44 5-5 5-31 5 11 5 19 5-35 5 47 5-18 5-29 5 20 5 10 5 17 5-67 5 26 5-30 5 35 5-39 5 40 5 7 5-48 5 29 5 34 5-53 5 23 5-24 5 28 5 28 5-84 5 78 5-80 5 10 5 59 5-8 5-2 5 47 5-85 5 26 5 60 5-73 5 20 5 4 5 14 5-11 5 34 5-2 5-82 5 47 5 2 5-16 5-32 5 55 5-39 5-13 5 10 5 8 5 8 5-19 5 14 5 38 5 15 5-18 5-5 5 21 5-14 5-7 5 39 5-66 5 35 5-20 5-21 5-26 5 38 5-2 5-8 5-60 5 85 5-17 5-31 5 56 5-9 5-27 5 43 5 13 5-26 5-33 5 77 5-41 5 33 5-55 5 22 5 0 5 27 5-27 5-47 5 5 5 12 5 28 5 15 5 0 5-62 5 9 5 29 5 12 5 6 5 2 5-51 5 34 5-17 5-36 5 39 5 55 5-54 5-45 5 90 5-68 5 43 5-63 5 79 5-103 5 76 5 3 5 20 5-40 5-16 5 32 5 34 5-82 5 55 5 15 5-73 5 5 5 80 5-8 5-40 5-1 5 37 5-60 5 43 5-31 5 16 5-52 5 52 5-33 5 31 5-47 5 35 5 15 5-47 5 9 5 9 5 0 5-43 5 44 5 2 5 30 5-13 5 63 5-75 5 42 5 0 5-75 5 66 5-15 5 21 5 16 5-26 5 32 5-69 5 6 5 40 5-68 5 70 5-69 5 77 5-74 5-5 5 48 5-18 5 40 5-61 5 71 5-8 5-26 5 28 5-57 5 35 5 17 5 13 5-127 5 110 5 56 5-74 5-6 5 17 5 5 5 48 5-9 5-25 5-45 5 45 5-5 5-49 5-7 5 71 5-56 5 9 5 6 5 2 5-1 5 37 5-23 5 6 5-39 5 38 5-41 5 1 5 13 5 62 5 1 5-58 5-29 5 15 5 44 5-4 5-45 5 56 5-49 5-4 5 49 5 20 5 1 5-27 5 21 5 1 5-40 5 40 5-29 5 21 5-24 5 5 5-45 5 35 5 31 5 6 5-69"/>
<path stroke="#008080" stroke-width="34" d="M2180 13896l5 34 5-75 5-54 5 77 5 33 5-54 5 47 5 61 5-68 5 12 5-89 5-6 5 15 5 196 5-93 5 59 5-150 5 7 5 87 5-116 5-13 5 209 5-128 5 37 5-69 5-18 5 32 5-30 5 45 5 77 5-47 5-26 5 166 5-213 5-13 5 103 5 37 5-56 5 35 5-70 5 123 5-30 5-35 5-44 5 46 5-16 5 7 5-5 5 85 5-156 5-19 5-32 5-44 5-260 5-247 5-177 5 85 5 160 5 219 5 139 5 160 5 21 5 61 5 140 5-130 5 3 5-11 5 6 5 33 5 33 5 89 5-238 5 266 5-128 5 73 5-66 5-62 5 62 5 55 5 11 5-94 5 93 5 12 5-46 5 5 5-38 5 8 5 22 5-4 5 143 5-43 5 49 5-96 5-9 5 120 5-19 5-152 5 97 5-31 5 45 5-27 5 39 5-60 5-32 5 27 5 66 5-55 5-58 5-34 5-35 5 12 5 75 5 94 5-87 5 136 5-141 5 66 5 99 5-190 5 157 5-22 5-100 5 117 5 1 5-64 5-21 5 8 5 84 5-62 5 45 5-9 5 75 5-41 5 17 5-37 5 21 5 0 5-61 5 84 5 25 5-53 5-54 5 38 5 31 5 5 5 56 5-171 5 163 5-116 5-17 5-3 5 42 5 22 5-78 5 56 5 51 5-8 5 43 5-60 5-88 5 182 5-210 5 174 5-88 5-34 5 9 5 110 5-50 5 47 5-116 5-40 5 71 5-17 5-38 5 18 5-9 5 144 5 35 5-28 5-103 5-4 5-14 5 104 5-36 5 48 5-21 5 24 5 40 5-125 5 71 5 50 5-111 5-34 5 52 5-6 5-35 5-5 5-12 5 66 5 89 5-65 5 26 5-4 5-98 5 145 5-127 5 33 5 43 5 23 5-73 5-78 5 139 5 32 5-23 5-67 5 51 5-2 5 44 5-125 5-19 5-1 5 146 5-125 5 38 5 109 5 13 5-138 5-33 5 174 5-134 5 26 5 70 5 8 5-44 5 5 5-44 5-20 5-31 5-99 5-272 5-117 5 148 5 269 5 159 5-33 5 64 5-80 5 83 5-27 5-93 5 113 5-1 5-12 5 16 5-20 5 26 5 27 5-195 5 149 5-63 5 134 5-151 5 16 5-10 5 80 5 1 5 2 5 83 5-74 5 50 5-15 5-20 5 31 5-58 5 30 5 2 5 14 5-43 5 21 5-2 5-68 5-15 5 27 5-20 5-4 5 79 5-86 5 48 5 55 5 51 5-51 5-88 5 52 5-45 5 79 5 45 5 12 5-3 5-83 5 61 5-124 5-33 5 66 5 113 5-135 5 71 5 78 5-16 5 4 5-149 5 123 5-27 5-31 5-4 5 46 5-32 5-55 5 16 5 104 5-118 5 39 5-41 5 42 5 71 5-39 5-15 5 140 5-162 5 30 5 42 5-31 5 17 5-80 5 64 5-41 5-52 5 132 5-91 5-42 5 140 5-45 5 21 5-30 5-76 5 71 5-25 5 95 5-42 5-22 5-7 5-29 5 29 5-78 5 117 5-66 5 69 5-33 5-21 5 6 5 3 5-15 5-52 5 136 5-12 5-59 5 83 5-57 5-18 5-22 5-80 5 179 5-141 5 46 5-60 5 42 5 13 5-60 5 95 5-31 5 30 5-24 5-47 5-36 5-98 5 0 5 97 5 79 5 31 5-96 5 130 5-26 5 41 5-24 5-29 5 2 5-82 5 68 5-68 5 45 5 91 5-105 5 11 5 96 5-122 5 43 5 22 5 65 5-136 5 116 5-116 5 9 5 79 5-73 5 106 5-104 5 95 5-95 5 69 5 30 5-110 5-9 5 47 5-8 5-71 5-56 5-130 5-117 5-165 5-167 5-66 5 76 5 149 5 160 5 127 5 116 5 78 5-35 5 43 5-13 5 53 5 15 5-36 5-26 5 35 5-31 5 56 5-73 5 114 5-6 5-9 5 18 5-81 5 99 5 11 5-76 5-13 5 21 5-47 5 7 5 131 5-120 5 62 5 24 5-88 5-37 5 196 5-196 5 20 5 85 5-32 5-35 5 15 5 45 5-64 5-55 5 11 5 27 5 118 5-16 5-21 5 6 5-70 5 9 5 117 5-141 5 34 5 82 5-38 5-42 5 68 5 3 5 61 5-35 5-110 5 56 5-98 5 86 5 80 5-13 5-14 5-60 5-40 5-41 5 41 5-14 5 107 5 20 5 2 5-41 5-74 5-44 5 84 5-84 5-21 5 60 5 56 5 31 5-16 5 80 5 62 5-122 5-108 5 125 5-103 5 92 5-72 5-51 5 20 5 25 5-5 5-68 5-9 5-112 5 104 5-26 5-78 5 254 5-156 5 126 5-122 5 21 5-8 5 14 5 49 5-17 5 48 5-74 5 132 5-144 5 45 5-43 5 64 5 8 5 75 5-22 5-13 5-54 5 60 5-85 5 132 5-60 5-30 5-94 5-2 5 63 5 27 5 31 5 69 5-73 5-57 5-48 5 117 5-17 5-58 5 0 5 26 5-29 5-54 5 93 5 39 5-31 5-63 5 82 5 4 5-51 5-96 5 141 5-103 5-29 5 79 5-1 5 82 5-36 5-49 5 4 5-51 5-27 5 27 5 79 5-57 5 53 5-57 5-75 5 146 5-34 5-16 5-32 5-23 5 4 5 46 5 15 5-86 5 41 5-13 5-19 5 60 5-25 5-80 5 35 5 8 5-66 5 227 5-123 5-29 5 2 5 12 5-50 5-52 5 2 5-12 5 102 5 29 5 12 5 7 5-54 5 102 5-62 5-79 5 23 5 128 5-139 5-42 5 3 5 109 5-65 5-108 5 163 5-41 5-156 5 204 5-87 5 14 5-34 5 43 5-15 5 40 5 101 5-92 5-140 5-22 5-51 5-19 5-120 5 0 5 49 5-30 5 54 5 8 5 170 5-56 5-11 5 177 5-133 5 22 5 31 5-38 5-20 5 67 5-55 5-57 5 36 5 56 5-50 5 131 5-162 5 80 5 85 5-183 5 165 5-45 5-106 5 129 5-80 5 14 5 10 5 121 5-192 5 2 5-20 5 56 5 3 5 10 5 25 5 20 5 8 5-94 5 48 5 24 5 24 5-66 5 95 5 17 5-128 5 115 5-163 5 175 5 59 5-207 5 128 5 1 5 6 5-143 5 25 5 207 5-204 5 59 5-40 5-7 5 58 5-30 5-87 5 43 5 123 5-23 5-12 5-93 5-17 5-3 5 13 5 129 5-134 5 112 5-57 5-103 5 6 5 6 5 4 5 109 5-5 5-92 5-22 5-20 5-90 5-67 5 18 5 120 5-138 5-40 5 170 5-66 5 92 5-123 5 187 5-81 5 115 5-24 5 99 5-98 5-13 5 83 5-44 5 56 5-17 5-147 5 163 5-30 5-132 5 171 5-98 5 44 5-30 5 82 5-31 5 24 5-26 5 68 5 8 5-60 5-100 5 66 5-100 5 94 5 7 5 23 5-30 5 40 5-80 5 70 5-133 5 72 5-151 5 25 5-29 5 0 5 0 5 14 5 166 5-84 5 103 5-91 5 25 5-45 5 156 5-114 5 62 5 100 5-99 5 72 5 32 5-73 5 60 5 7 5-44 5-24 5-74 5 116 5 5 5-142 5 241 5-215 5 58 5-54 5 131 5-114 5 18 5 112 5 55 5-117 5-152 5 140 5-27 5-66 5 37 5-21 5 22 5 80 5-156 5 174 5-23 5-123 5 62 5 21 5-43 5 3 5-45 5-40 5 97 5 28 5 107 5-109 5-77 5 113 5-125 5 7 5-134 5-484 5-342 5 340 5 460 5 158 5 112 5-170 5 327 5-204 5-132 5 168 5 17 5-127 5 40 5 68 5 5 5-3 5-94 5 22 5 19 5-106 5 15 5 118 5-88 5 120 5-47 5 66 5-11 5-111 5-21 5 43 5-87 5-48 5 81 5-7 5 0 5-29 5 108 5 33 5-197 5 35 5-10 5 4 5-124 5-36 5-73 5-164 5-106 5-223 5-237 5-221 5-93 5 96 5 224 5 254 5 210 5 128 5 155 5 78 5 18 5 39 5 136 5-18 5 50 5-77 5 30 5 97 5-68 5 18 5 30 5-68 5 50 5 95 5-80 5 82 5-85 5 113 5-48 5 104 5-26 5-4 5-92 5 73 5 22 5-7 5-58 5-45 5 104 5 66 5-107 5 31 5 64 5-143 5 29 5 68 5-206 5 181 5-22 5-83 5 19 5 159 5-141 5 64 5 75 5-31 5-103 5 92 5-38 5-63 5 4 5 60 5-5 5 8 5-36 5-2 5-5 5 11 5 65 5-86 5 63 5-33 5 118 5-43 5-1 5 43 5-112 5-31 5 114 5-84 5 109 5-105 5 51 5-33 5 57 5-92 5-57 5 56 5 199 5-158 5-9 5 37 5-43 5 86 5-59 5 26 5 23 5-7 5-102 5 91 5-94 5 69 5 42 5-55 5 16 5 12 5-108 5 66 5-49 5 100 5-3 5-89 5-39 5 42 5 86 5-89 5 64 5-15 5-72 5 99 5-101 5 161 5-40 5-12 5-17 5-50 5 50 5-4 5 29 5-127 5 39 5-51 5 80 5-27 5-7 5 49 5-134 5 162 5-110 5-33 5 72 5 43 5-240 5 174 5 74 5-21 5-131 5-29 5-28 5-15 5-17 5-132 5-41 5-41 5-100 5 0 5 48 5 30 5 67 5 61 5 137 5 39 5 69 5-14 5-26 5 46 5-18 5 59 5-11 5 4 5 105 5-121 5 105 5-45 5 44 5 35 5-67 5 72 5 25 5-104 5 119 5-54 5-67 5 114 5-103 5 67 5-12 5 90 5-111 5 48 5-24 5 35 5-47 5 96 5-98 5 120 5-36 5-72 5 34 5-104 5 29 5 41 5-95 5 105 5-32 5-24 5 153 5-173 5 105 5 21 5-78 5-30 5 107 5 23 5-163 5 145 5-102 5 80 5 53 5-172 5 167 5-105 5 80 5-133 5 104 5 26 5-103 5-18 5-7 5 105 5-50 5-73 5 33 5-46 5-48 5 78 5 13 5 25 5 8 5 46 5-119 5 37 5 24 5 16 5-62 5 8 5-74 5-58 5 109 5-186 5 44 5 41 5-85 5 57 5-18 5-28 5 63 5-110 5 66 5-37 5 117 5 36 5-94 5 6 5 127 5-155 5 168 5-72 5-54 5 149 5-26 5 39 5 24 5-121 5-11 5 93 5-66 5 27 5 128 5-151 5 63 5-2 5 37 5 23 5-45 5-9 5-40 5-1 5 7 5 104 5-67 5-25 5 24 5-30 5 120 5-8 5 57 5-124 5-1 5 42 5-12 5-42 5 24 5 97 5 25 5-37 5-57 5 9 5 26 5-83 5-25 5 51 5 6 5-63 5 75 5 25 5-26 5-66 5 97 5 46 5-103 5 65 5-67 5 46 5-22 5 38 5 76 5-38 5-15 5-89 5 70 5-67 5 52 5 67 5 32 5-63 5-41 5 54 5-78 5 49 5 7 5-10 5-58 5 23 5 93 5-127 5-15 5 65 5-18 5-25 5 90 5 0 5-3 5-35 5-67 5 110 5-113 5-15 5 59 5-18 5 112 5-91 5-40 5 105 5-64 5 63 5 91 5-136 5 100 5 15 5-30 5-121 5 3 5 137 5-130 5 119 5-119 5 42 5 86 5-61 5 53 5-153 5 78 5 55 5-58 5-75 5 78 5 22 5 33 5-70 5-42 5-1 5-32 5 22 5-122 5 73 5-98 5 70 5-54 5 137 5 70 5 3 5 2 5-30 5 18 5-75 5-33 5-3 5 126 5-26 5-3 5-46 5 5 5-2 5-8 5 89 5 29 5-72 5 16 5 59 5-114 5-50 5 118 5 9 5-134 5 12 5-2 5-6 5 118 5-154 5 124 5-113 5 38 5 122 5-170 5 49 5 31 5-76 5 127 5-146 5 22 5 35 5-47 5 74 5 12 5-95 5 25 5 4 5 101 5-120 5 14 5 82 5-62 5 72 5-42 5 54 5-19 5-39 5-29 5 78 5-78 5 87 5-70 5-17 5-53 5-148 5-49 5-21 5 117 5 30 5 74 5 61 5-62 5 47 5-1 5-28 5 83 5-155 5 73 5-111 5 34 5-68 5-14 5-157 5 171 5 0 5 0 5-292 5 292 5 0 5 0 5-116 5 56 5 89 5 102 5-48 5-8 5 68 5 95 5-88 5 15 5 105 5-7 5-128 5 127 5-111 5 11 5 18 5 22 5-39 5 43 5-43 5 49 5 10 5-10 5 89 5-91 5 142 5-129 5 65 5-60 5-17 5 74 5-94 5 122 5-61 5-65 5 134 5-51 5-137 5 148 5 67 5-76 5 60 5-62 5-97 5 64 5-15 5 15 5 13 5 18 5-154 5-34 5 11 5 95 5 76 5 56 5-123 5 129 5-76 5 88 5 31 5 57 5-111 5-77 5 59 5-74 5 55 5 51 5-109 5 83 5 53 5-102 5 165 5-114 5 31 5-94 5 120 5-47 5 36 5-5 5-34 5 80 5 21 5 5 5-30 5-25 5 33 5 26 5-41 5-68 5 43 5-81 5 184 5-51 5-100 5 44 5 45 5-55 5 62 5-76 5 10 5-78 5 59 5 27 5-73 5-44 5 71 5-60 5-31 5-5 5-37 5 0 5 0 5 82 5-13 5-27 5 121 5-6 5-71 5 133 5-96 5 44 5 78 5-153 5 79 5 72 5-34 5 0 5 10 5 3 5-98 5 64 5-42 5 56 5-61 5 124 5-40 5-16 5-8 5-45 5 19 5-3 5 96 5-85 5 105 5-38 5 29 5-141 5 129 5-84 5 36 5-80 5 73 5-77 5 108 5-67 5 84 5-18 5-77 5-22 5-65 5 139 5 35 5-40 5 7 5 14 5 31 5-113 5 72 5-42 5 6 5 13 5 41 5-90 5 17 5 83 5-140 5 130 5-15 5-12 5 15 5 22 5-7 5 63 5 14 5-142 5 10 5 4 5 92 5-5 5-30 5-47 5-8 5-7 5-6 5 19 5 32 5-20 5-26 5 23 5 51 5 7 5-42 5 67 5 2 5-40 5-84 5 129 5-105 5 48 5-4 5-66 5 147 5-85 5-23 5 33 5-13 5-67 5 121 5-22 5-125 5 69 5-29 5 3 5-22 5 90 5-22 5 53 5 16 5 7 5-44 5-2 5 58 5-114 5 112 5-72 5 28 5-42 5 86 5-109 5 126 5-110 5-39 5-2 5 109 5-118 5 58 5-82 5 30 5 46 5-61 5-22 5 141 5-6 5-61 5-41 5 77 5-16 5 54 5-76 5-5 5 103 5-26 5-16 5-48 5 3 5-26 5-17 5 72 5-34 5 20 5 4 5-22 5 73 5-103 5-45 5 25 5 162 5-117 5 96 5-114 5 41 5 51 5-25 5-23 5 41 5-66 5-16 5 16 5 71 5-109 5 137 5-138 5 107 5-12 5-18 5-91 5-79 5 119 5 71 5-18 5-91 5 48 5-4 5-33 5-27 5 47 5 73 5-38 5-72 5 31 5 35 5-60 5-6 5 83 5 7 5-32 5 33 5-102 5 147 5-77 5 53 5 17 5-118 5 87 5-92 5 60 5-83 5 32 5 25 5 1 5-8 5 116 5 30 5-114 5-36 5 76 5 30 5-83 5 59 5-49 5 83 5-56 5-4 5-67 5 52 5-59 5-36 5 132 5 35 5-9 5-90 5 32 5-16 5 34 5 24 5-16 5-36 5 36 5 19 5-123 5 108 5-67 5 50 5 39 5-35 5-86 5 89 5-107 5 5 5 18 5-42 5-2 5-106 5 47 5-86 5-4 5-47 5-9 5-26 5-77 5 40 5-40 5 24 5-24 5 9 5 46 5 26 5 84 5 19 5 60 5-11 5 19 5 66 5 38 5-57 5 46 5 49 5-46 5-5 5 18 5 53 5-9 5 64 5-86 5 85 5-30 5 39 5-76 5 58 5-27 5 19 5 37 5 8 5-37 5 51 5-102 5 74 5-65 5 53 5-80 5 56 5-37 5 6 5 49 5-23 5-51 5 54 5 71 5-95 5 23 5 14 5-60 5-12 5 56 5-18 5 20 5-22 5 46 5-103 5 64 5-14 5 57 5-21 5 8 5 78 5-47 5-79 5 23 5 69 5-66 5 70 5-73 5 30 5 77 5-13 5-41 5 29 5-14 5-109 5 97 5 1 5-24 5 34 5 31 5-27 5 4 5-71 5-20 5 93 5-52 5-30 5 30 5 46 5-86 5 48 5-70 5 89 5-24 5 22 5 77 5-44 5-30 5 7 5-74 5 57 5-11 5 22 5 46 5-11 5 6 5 2 5-131 5 129 5-24 5-27 5-84 5 79 5 38 5-104 5 109 5 7 5-74 5-48 5 0 5 76 5-58 5 2 5-7 5 65 5 80 5-66 5 9 5 30 5-20 5 24 5-119 5 58 5-52 5 11 5-19 5 58 5 11 5-31 5 86 5-121 5 96 5 11 5-104 5 10 5 62 5-16 5-46 5 54 5-53 5 72 5-43 5 76 5-53 5 33 5-111 5-12 5 65 5 9 5 18 5-99 5 60 5-32 5-32 5 133 5-115 5 14 5 94 5-79 5 72 5 3 5-114 5 97 5-70 5-2 5 40 5 50 5-68 5-25 5 144 5-94 5-26 5 47 5 31 5-158 5 51 5 40 5-39 5 109 5-10 5 17 5-6 5-59 5 0 5 74 5-16 5-129 5-41 5 74 5-74 5 59 5 9 5 62 5-33 5 22 5 7 5 31 5-61 5-12 5-1 5 23 5 38 5-41 5 52 5-79 5 108 5-125 5 144 5-137 5 52 5 68 5-105 5 52 5-34 5 33 5-9 5-55 5 28 5-100 5 158 5-55 5 57 5-52 5 96 5-68 5-69 5 40 5 28 5-29 5 27 5-26 5 24 5-2 5-89 5 210 5-115 5-6 5 138 5-183 5 87 5-63 5 47 5-46 5 12 5-1 5 68 5-91 5 70 5-2 5 24 5-34 5-65 5 69 5-46 5 59 5-111 5 128 5-105 5 98 5 7 5-47 5-39 5-72 5 123 5-54 5 39 5 8 5 9 5 5 5-15 5 64 5-53 5-2 5-52 5 79 5 7 5-142 5 71 5-5 5-17 5 3 5-29 5 42 5 8 5 43 5 27 5 13 5-8 5 2 5-26 5-10 5 21 5-43 5-10 5 0 5-61 5-1 5 19 5 0 5 12 5 17 5 42 5-27 5-22 5-7 5 10 5 1 5 58 5-34 5 5 5 27 5-17 5-17 5-15 5 85 5-17 5-85 5 26 5 11 5-82 5 41 5-18 5 58 5 42 5-52 5-38 5 95 5-100 5 13 5-35 5 65 5-61 5 70 5-12 5-29 5 0 5-43 5 109 5-113 5 92 5 12 5-26 5 42 5-68 5 92 5-32 5 47 5-13 5-28 5-2 5-10 5 12 5-14 5 35 5-63 5-49 5 83 5-148 5 146 5-63 5 76 5-99 5 94 5-81 5-29 5 15 5-24 5 101 5 33 5 27 5-102 5 24 5-4 5-30 5 53 5 9 5 43 5-36 5 109 5-167 5 86 5-127 5 93 5 51 5-25 5-70 5-59 5 8 5 38 5 43 5-22 5 37 5 9 5 12 5 19 5-27 5-10 5-37 5-39 5-4 5-18 5-40 5 167 5-151 5 28 5-32 5 5 5-10 5 24 5-36 5 49 5 29 5-19 5 74 5-113 5 18 5-3 5 28 5-28 5-120 5 120 5 37 5-33 5 74 5-61 5 3 5-11 5 23 5 1 5-69 5 23 5 62 5-12 5 17 5 4 5 50 5-73 5-10 5-16 5 11 5 26 5 17 5-11 5 61 5-14 5-34 5 53 5-103 5 49 5-67 5 8 5 123 5-109 5 111 5-116 5 102 5-41 5-33 5-37 5 58 5 48 5 2 5-20 5-17 5 71 5-16 5-86 5 58 5-27 5-29 5 2 5-26 5 108 5-104 5 36 5-21 5 45 5-40 5 82 5-38 5 69 5-51 5 9 5-6 5-41 5 42 5-60 5-10 5 23 5-53 5 93 5-23 5 34 5-57 5-41 5 24 5 48 5-121 5 31 5 14 5 6 5-36 5 50 5 39 5 31 5-28 5-31 5-42 5 74 5 41 5-51 5 45 5-38 5 64 5-37 5 30 5-86 5 52 5-26 5-29 5 24 5-27 5 75 5-51 5 76 5-62 5-112 5 51 5 32 5-23 5 12 5-12 5 99 5-78 5 93 5-95 5 4 5 45 5-52 5-18 5 125 5-42 5-70 5 83 5 13 5-113 5 64 5 18 5 8 5-9 5-54 5-38 5-16 5 125 5-115 5 93 5-77 5 65 5-46 5 97 5-111 5 70 5-55 5 117 5-117 5 0 5 40 5 39 5-73 5 53 5 18 5-58 5 4 5 27 5-6 5 1 5 68 5-60 5 13 5 22 5-24 5 7 5-54 5 58 5-8 5-34 5-21 5 38 5-36 5-28 5 84 5-17 5 30 5-118 5 30 5-17 5 93 5-56 5-47 5 119 5-22 5-36 5-58 5 93 5 132 5-119 5-51 5-18 5-32 5-3 5 29 5-59 5 126 5-132 5 90 5 3 5-85 5 113 5-100 5-12 5 103 5 25 5-71 5-20 5-22 5 2 5-81 5 4 5-75 5-73 5 0 5 48 5 73 5 105 5-42 5 77 5 74 5-30 5-86 5 107 5-30 5 29 5-82 5-8 5 127 5-126 5-6 5 83 5 3 5 48 5-32 5 55 5-84 5-126 5 61 5 32 5 104 5-6 5-86 5 28 5 27 5-73 5 11 5 30 5-18 5 81 5-124 5 30 5 24 5 0 5 16 5 55 5 8 5-45 5-97 5 94 5 96 5-120 5-46 5 16 5 16 5 41 5-46 5-16 5 35 5-90 5 112 5-72 5 67 5-180 5 162 5-45 5 12 5 34 5-48 5 16 5 49 5 2 5-4 5 1 5-28 5 1 5-56 5 95 5-48 5 65 5-114 5 20 5 22 5 74 5-44 5-29 5-39 5 73 5-70 5 28 5 69 5-5 5-11 5-21 5-87 5 87 5-30 5 82 5-18 5-52 5 104 5-130 5-18 5 60 5 94 5-88 5-51 5 108 5-74 5 31 5-115 5 124 5-85 5 36 5 63 5-99 5 36 5 50 5-80 5 19 5 20 5 57 5-93 5 29 5 51 5-35 5 35 5-51 5 23 5-55 5 40 5 11 5 0 5-33 5-19 5 79 5-32 5 31 5-48 5-7 5-22 5 95 5 4 5-70 5-39 5 39 5 51 5-31 5-67 5 113 5-10 5-64 5 27 5 48 5-2 5-6 5-32 5-77 5 38 5 0 5 63 5-27 5-8 5-19 5 46 5 15 5-100 5 48 5-48 5-79 5-36 5 52 5 10 5 21 5 160 5-143 5 92 5-66 5 98 5-57 5 71 5-29 5-35 5 51 5-7 5-87 5 109 5-77 5 101 5-2 5-11 5-45 5 21 5-102 5-6 5 76 5-21 5 44 5 46 5-43 5-171 5 73 5 61 5 73 5-77 5 69 5-76 5-85 5 90 5 8 5-71 5 87 5-23 5-47 5 68 5-20 5-43 5 52 5 68 5-9 5-2 5-30 5-44 5 99 5-85 5 54 5-78 5 81 5-51 5-21 5-42 5-8 5 95 5 4 5-47 5 58 5-100 5 71 5 39 5-12 5-50 5-93 5 10 5-7 5 8 5-51 5 99 5 26 5-58 5 57 5-122 5 62 5 53 5-113 5 0 5 0 5 0 5 0 5 59 5 29 5-7 5-38 5-39 5 115 5 13 5-14 5-41 5 69 5-29 5-16 5 22 5-26 5 2 5 59 5-29 5-59 5 194 5-217 5 66 5-30 5 44 5-12 5-62 5 32 5 7 5 36 5-15 5 2 5 89 5-31 5 35 5-48 5-17 5-67 5 97 5 9 5 14 5-64 5 57 5-83 5-77 5 68 5 99 5-126 5 55 5-73 5 119 5-41 5-31 5 7 5-48 5 104 5-81 5 87 5-7 5-108 5 53 5-14 5 87 5 30 5-75 5 82 5-2 5-67 5 7 5-165 5 204 5-15 5-58 5 44 5 23 5-117 5 114 5-92 5 12 5 60 5-7 5-30 5-65 5 82 5-63 5 74 5-34 5 25 5 21 5-37 5-26 5 60 5 40 5-16 5 28 5-44 5-33 5 35 5 3 5-90 5 126 5-51 5-4 5 41 5-69 5-57 5 63 5 118 5-180 5 124 5-95 5 72 5 28 5-51 5-46 5 31 5 27 5-78 5 85 5-97 5 64 5-30 5 1 5 108 5-79 5-18 5 7 5 79 5-103 5 91 5-16 5-57 5 109 5-87 5 60 5 32 5-16 5-114 5 86 5-91 5 41 5 52 5 13 5-98 5-38 5 53 5 2 5 28 5-60 5-22 5 63 5 33 5 16 5-102 5 64 5-56 5 59 5-24 5-14 5 55 5-20 5-7 5 26 5 49 5-151 5 114 5-102 5 130 5-7 5 15 5-59 5-30 5-13 5 99 5-57 5 6 5 15 5-32 5 61 5-3 5-60 5-36 5 40 5-7 5-23 5 49 5-20 5-20 5 69 5-64 5-27 5 70 5 40 5-69 5-45 5 73 5 7 5 41 5-64 5-65 5 31 5 13 5 29 5 51 5-89 5 126 5-51 5 27 5 1 5-51 5 22 5-67 5-31 5 23 5 71 5-123 5 82 5-74 5 113 5-46 5-21 5 43 5-8 5-16 5-50 5 44 5-38 5 85 5-77 5 78 5-90 5 29 5 3 5 24 5 11 5-66 5 81 5 37 5-106 5 53 5-7 5 65 5-98 5 12 5 17 5 58 5 18 5-134 5 112 5 20 5 4 5-63 5-19 5-47 5 132 5-135 5 89 5 23 5-54 5 70 5-90 5-3 5-30 5 21 5-34 5 48 5 12 5-23 5 30 5-78 5 26 5-63 5-7 5-3 5 71 5-71 5 41 5 106 5-88 5-29 5-6 5 113 5-46 5 60 5 19 5-98 5 15 5 35 5 37 5-13 5-57 5 7 5 84 5-170 5 75 5-17 5 33 5-71 5 144 5-42 5-7 5-76 5 62 5 40 5 41 5-44 5 20 5-60 5 70 5-70 5-49 5 5 5-18 5 102 5-70 5 29 5-4 5-46 5 20 5 23 5 60 5 13 5-25 5-21 5-23 5-20 5 37 5-16 5 35 5-65 5 76 5 50 5-12 5-89 5 72 5-25 5-25 5 31 5-70 5 96 5-38 5-51 5 71 5 1 5-93 5 8 5-20 5 68 5 29 5 25 5 13 5-122 5 52 5-65 5-10 5 61 5-91 5 148 5-153 5-12 5 75 5-75 5 0 5 31 5-31 5 27 5 14 5 49 5 76 5-2 5-37 5 12 5-41 5 57 5-65 5 81 5 41 5-45 5-59 5-19 5 68 5-5 5 0 5-7 5 49 5-5 5-18 5-6 5 2 5-84 5 31 5 81 5-98 5 19 5 6 5 56 5-2 5-55 5-28 5 27 5 10 5-60 5 46 5-6 5 5 5-68 5 1 5 78 5-81 5 86 5 8 5-94 5 87 5 87 5-65 5 29 5-79 5 88 5-31 5 45 5-131 5 32 5 77 5 23 5-82 5 78 5-117 5 74 5-89 5 70 5 20 5 17 5-20 5 3 5-60 5 54 5 40 5-88 5 85 5-37 5 36 5-89 5 45 5-68 5-16 5 59 5 59 5-58 5-40 5 89 5 3 5-51 5 3 5-42 5 73 5 45 5-130 5 107 5-89 5 83 5-54 5 88 5-51 5-58 5 24 5 16 5 22 5-91 5 86 5-15 5-66 5 91 5 28 5-86 5-21 5 95 5-121 5 69 5 17 5 25 5-91 5 97 5-95 5 53 5 55 5-2 5-126 5 41 5 30 5-47 5 25 5 57 5-51 5-29 5 97 5-84 5 69 5-86 5 31 5-7 5 29 5 48 5 8 5-54 5 48 5-114 5 1 5 48 5-12 5-36 5 19 5 65 5-12 5 17 5-11 5-15 5-25 5 9 5 35 5-19 5-1 5-79 5 95 5-45 5 46 5-31 5-22 5-22 5 102 5-106 5 96 5-16 5-8 5-57 5-16 5 43 5 38 5 22 5-24 5 6 5 4 5-25 5 10 5 34 5-8 5-21 5-49 5 67 5-46 5 39 5-24 5-75 5 65 5 121 5-91 5-96 5 67 5-25 5 10 5-51 5 59 5 30 5-84 5 153 5-136 5 31 5-50 5 37 5-22 5-10 5 81 5-62 5 73 5-40 5-84 5 91 5 34 5-95 5 51 5-31 5 49 5 22 5-24 5-82 5 132 5-132 5 120 5-16 5-73 5 100 5-46 5-134 5 76 5 46 5 47 5-56 5 11 5-66 5 30 5 26 5-40 5 102 5-82 5 25 5-57 5 10 5 64 5 13 5-46 5-35 5 53 5-18 5 32 5-58 5 15 5 111 5 0 5-10 5-62 5 19 5-30 5 5 5-33 5 34 5-68 5 15 5-34 5 18 5 51 5-11 5-36 5-18 5 94 5-89 5 110 5-22 5 14 5-53 5 74 5-63 5-33 5 141 5-96 5-31 5-62 5 134 5-47 5-53 5 128 5-17 5-83 5 86 5-126 5 38 5-38 5 29 5-35 5 109 5 12 5-47 5-61 5 73 5-66 5 128 5-86 5 30 5-76 5 56 5 75 5-54 5-15 5 15 5-48 5 31 5-5 5-34 5 43 5-69 5 65 5-57 5 104 5-20 5-7 5 38 5-72 5 63 5-53 5-27 5 61 5-84 5 44 5 8 5-33 5 38 5 3 5 87 5-118 5 48 5-35 5 65 5-120 5 51 5-6 5-25 5 23 5-13 5 51 5 21 5-63 5-10 5 111 5-30 5-81 5 75 5-41 5-19 5 36 5-2 5-13 5 36 5-89 5 101 5 21 5-27 5-40 5-3 5-5 5 35 5 3 5-31 5 24 5 30 5-44 5-16 5 14 5 51 5-107 5 80 5 29 5-105 5 40 5 2 5-73 5 39 5 21 5 47 5-29 5-13 5 76 5-30 5-62 5 84 5 14 5-23 5 14 5-116 5 35 5-35 5 66 5-77 5 9 5-29 5 132 5-32 5-30 5-33 5 1 5 93 5-19 5-20 5 12 5-84 5 36 5-50 5 0 5-52 5 18 5 85 5-111 5 69 5-27 5 36 5-40 5 0 5 0 5 9 5 11 5-60 5 79 5 49 5-26 5-16 5 8 5-10 5 67 5-50 5-81 5 13 5 61 5 48 5-38 5-23 5-35 5 119 5-39 5 62 5-73 5-48 5 60 5 46 5 16 5-54 5 82 5-74 5-75 5 124 5-22 5-26 5 3 5 62 5-32 5-39 5 4 5 85 5-108 5 41 5 18 5 27 5-41 5-63 5 37 5 50 5-29 5-40 5 86 5-17 5-4 5-10 5-90 5 63 5-33 5 68 5 13 5-55 5-15 5 8 5-2 5 13 5-5 5 0 5-46 5 11 5 82 5-66 5 70 5-36 5-44 5 3 5 34 5-9 5-33 5 24 5 91 5 28 5-83 5 21 5-51 5 38 5-59 5 53 5 55 5-20 5-2 5-55 5 44 5-23 5-52 5-7 5 20 5-28 5 105 5-38 5 18 5-97 5 12 5 121 5-107 5 95 5-11 5-28 5-3 5 0 5-50 5 62 5-22 5 33 5 28 5-25 5 31 5 17 5-124 5 60 5-35 5-28 5 123 5-52 5-46 5 53 5 60 5-56 5 10 5-82 5-14 5 59 5 41 5 27 5-68 5 17 5 4 5-51 5-11 5 27 5 78 5-57 5 16 5-16 5-15 5 34 5 23 5-11 5-30 5-70 5 24 5 14 5 44 5-28 5-8 5 65 5 5 5-85 5 78 5 8 5-77 5 14 5 84 5-76 5-41 5 7 5 61 5 7 5-57 5 27 5 5 5 13 5-4 5-15 5 17 5-56 5 87 5-44 5-60 5 34 5-13 5 27 5 19 5 72 5-129 5 26 5-12 5-10 5 27 5-6 5 33 5 11 5-62 5 55 5 30 5-19 5 17 5-76 5 22 5 32 5-10 5-28 5 39 5-69 5 5 5 43 5-22 5 49 5-20 5-68 5 95 5-47 5-66 5 71 5 52 5-55 5-17 5 36 5 36 5-11 5 23 5-101 5 44 5 0 5-14 5 20 5 22 5-54 5 88 5-76 5 34 5-41 5 29 5 51 5-114 5 19 5 7 5 28 5-20 5 59 5-8 5 6 5-80 5 74 5 22 5-32 5 29 5-81 5 49 5-22 5 80 5-104 5 69 5-25 5-65 5 61 5 16 5-3 5-50 5 9 5-8 5 63 5 8 5-41 5-16 5 19 5-15 5 57 5-102 5 61 5-19 5 19 5 40 5 20 5-2 5 15 5-40 5 32 5-65 5 19 5-9 5-38 5 46 5 52 5-95 5 67 5 5 5-36 5-25 5 3 5 19 5-8 5-70 5 58 5 44 5-12 5 28 5-39 5 11 5 12 5 21 5-57 5-7 5-13 5 81 5-121 5 57 5-43 5 60 5-69 5-6 5-12 5 37 5 22 5 11 5 42 5-34 5-25 5 54 5 97 5-125 5-2 5-27 5-16 5 93 5 21 5-110 5 121 5-134 5 123 5-31 5-48 5 23 5 31 5 11 5-93 5 74 5-42 5 66 5-62 5-18 5 17 5-57 5 63 5 20 5-81 5 101 5-82 5 29 5-26 5 108 5-60 5-61 5 94 5 36 5-56 5 10 5-68 5 36 5-35 5 63 5-186 5 111 5 81 5-44 5 45 5-50 5 25 5-40 5-10 5 59 5-72 5-1 5 50 5-9 5-20 5 10 5-17 5-3 5 79 5 18 5-59 5 68 5-51 5 22 5-15 5 46 5-27 5-46 5 51 5-97 5 115 5-39 5-46 5 30 5-41 5 88 5-67 5-34 5 39 5 64 5-53 5 43 5 6 5-79 5 41 5 1 5-7 5-15 5 121 5-138 5 59 5-10 5-53 5 61 5-69 5 86 5-58 5 32 5 113 5-133 5-14 5 39 5-23 5 66 5-94 5 32 5 2 5 35 5 6 5 2 5-55 5 57 5-75 5 60 5 22 5-20 5-57 5-10 5 65 5-17 5-49 5 62 5-22 5-87 5 55 5 17 5-85 5 160 5-107 5 48 5-73 5 117 5-88 5 17 5-2 5 83 5-19 5-37 5 29 5-29 5-8 5-50 5 86 5 9 5-28 5-39 5-44 5 96 5-20 5-59 5 98 5-97 5 36 5 69 5-25 5 12 5-16 5-106 5 139 5-99 5 65 5 22 5-63 5-7 5 86 5-69 5 60 5-100 5 51 5 42 5 17 5-85 5 49 5-94 5 51 5 59 5-14 5-43 5-45 5 65 5-47 5 12 5 21 5 19 5 51 5-24 5-84 5 87 5 10 5-51 5-66 5 89 5-39 5-33 5 80 5-83 5 49 5 8 5 41 5 67 5-102 5 16 5-4 5 45 5-77 5-3 5 26 5 51 5-6 5-75 5 9 5 38 5-100 5 88 5 22 5-46 5 64 5-42 5 39 5-8 5-71 5 55 5-11 5 24 5-86 5 75 5-22"/>
</g>
<g fill="#000" filter="url(#crispA)">
<text class="tk" x="570.8" y="1556.8" text-anchor="middle">20</text>
<text class="tk" x="1041.4" y="1556.8" text-anchor="middle">40</text>
<text class="tk" x="1513.6" y="1556.8" text-anchor="middle">60</text>
<text class="tk" x="1986.0" y="1556.8" text-anchor="middle">80</text>
<text class="sa" transform="translate(262.4 367.6) scale(1 1.03)">ZX</text>
<text class="sa" transform="translate(305.3 478.7) scale(1 1.03)">ZX</text>
<text class="sa" transform="translate(355.7 527.6) scale(1 1.03)">ZX</text>
<text class="sa" transform="translate(437.1 449.7) scale(1 1.03)">ZX</text>
<text class="sa" transform="translate(520.9 520.2) scale(1 1.03)">ZX</text>
<text class="sa" transform="translate(255.7 792.8) scale(1 1.03)">ZX</text>
<text class="sa" transform="translate(300.3 944.3) scale(1 1.03)">ZX</text>
<text class="sa" transform="translate(348.5 1007.8) scale(1 1.03)">ZX</text>
<text class="sa" transform="translate(429.3 957.3) scale(1 1.03)">ZX</text>
<text class="sa" transform="translate(540.1 1093.5) scale(1 1.03)">ZX</text>
<text class="sa" transform="translate(608.5 881.8) scale(1 1.03)">ZX</text>
<text class="sa" transform="translate(708.5 892.8) scale(1 1.03)">ZX</text>
<text class="sa" transform="translate(804.7 922.6) scale(1 1.03)">ZX</text>
<text class="sa" transform="translate(846.7 1054.5) scale(1 1.03)">ZX</text>
<text class="sa" transform="translate(223.1 1293.6) scale(1 1.03)">ZX</text>
<text class="sa" transform="translate(292.3 1353.8) scale(1 1.03)">ZX</text>
<text class="sa" transform="translate(395.9 1348.7) scale(1 1.03)">HS</text>
<text class="sa" transform="translate(581.3 1302.0) scale(1 1.03)">ZX</text>
<text class="sa" transform="translate(679.7 1275.6) scale(1 1.03)">HS</text>
<text class="sa" transform="translate(714.3 1356.4) scale(1 1.03)">HS</text>
<text class="sa" transform="translate(873.3 1362.0) scale(1 1.03)">HS</text>
<text class="yt" transform="translate(86.3 895.0) rotate(-90)">Intensity</text>
</g>
<g fill="#000" filter="url(#crispB)">
<text class="se" x="614.1" y="373.9">ZX</text>
<text class="se" x="692.1" y="395.3">ZX</text>
<text class="se" x="792.0" y="426.2">ZX</text>
<text class="se" x="834.3" y="522.8">ZX</text>
<text class="tp" x="1699.6" y="204.6">25<tspan class="dg" dy="-13.5" dx="-0.8">°</tspan><tspan dy="13.5" dx="-1.2">C, 12h</tspan></text>
<text class="tp" x="1696.5" y="582.4">90<tspan class="dg" dy="-13.5" dx="-0.8">°</tspan><tspan dy="13.5" dx="-1.2">C, 12h</tspan></text>
<text class="tp tp3" x="1701.5" y="1165.0">120<tspan class="dg" dy="-13.5" dx="-0.8">°</tspan><tspan dy="13.5" dx="-1.2">C, 12h</tspan></text>
<text class="tp tp3" x="1711.0" y="1405.8">150<tspan class="dg" dy="-13.5" dx="-0.8">°</tspan><tspan dy="13.5" dx="-1.2">C, 12h</tspan></text>
<text class="xt"><tspan class="xi" x="1004.5" y="1686.4" font-size="74">2</tspan><tspan class="xi" x="1069" y="1677.4" font-size="58">θ</tspan><tspan x="1130" y="1686.4" font-size="40"> </tspan><tspan x="1166.5" y="1679.5" font-size="73.8" rotate="7">/</tspan><tspan x="1215" y="1686.4" font-size="40"> </tspan><tspan x="1252.5" y="1678.7" font-size="66.5">(</tspan><tspan x="1286.2" y="1680.5" font-size="68">°</tspan><tspan x="1361.4" y="1678.7" font-size="66.5">)</tspan></text>
</g>
</svg>
</body>
</html>
